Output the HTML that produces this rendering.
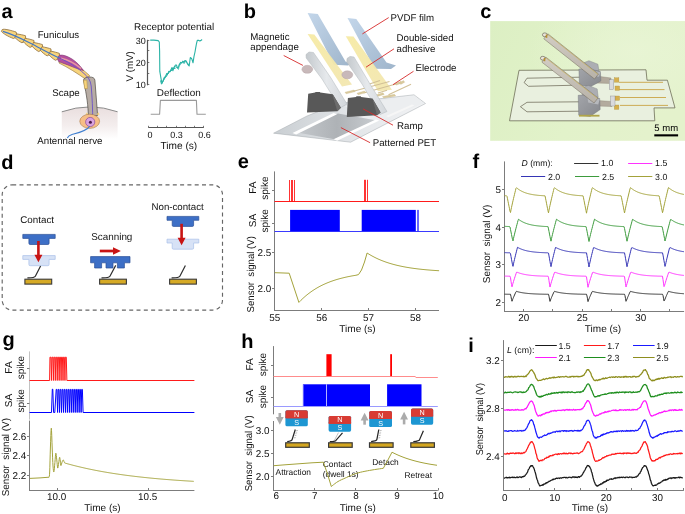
<!DOCTYPE html>
<html><head><meta charset="utf-8"><style>
html,body{margin:0;padding:0;background:#fff;width:685px;height:514px;overflow:hidden}
svg{display:block;will-change:transform}
</style></head><body>
<svg width="685" height="514" viewBox="0 0 685 514" text-rendering="geometricPrecision" font-family='"Liberation Sans", sans-serif'>
<text x="1.5" y="18" font-size="20" text-anchor="start" fill="#000" font-weight="bold">a</text>
<text x="243.8" y="18" font-size="20" text-anchor="start" fill="#000" font-weight="bold">b</text>
<text x="480.3" y="18" font-size="20" text-anchor="start" fill="#000" font-weight="bold">c</text>
<text x="1.2" y="168.5" font-size="20" text-anchor="start" fill="#000" font-weight="bold">d</text>
<text x="237.8" y="168.4" font-size="20" text-anchor="start" fill="#000" font-weight="bold">e</text>
<text x="472.6" y="167.5" font-size="20" text-anchor="start" fill="#000" font-weight="bold">f</text>
<text x="2.5" y="346" font-size="20" text-anchor="start" fill="#000" font-weight="bold">g</text>
<text x="241.2" y="347.5" font-size="20" text-anchor="start" fill="#000" font-weight="bold">h</text>
<text x="468.2" y="351.9" font-size="20" text-anchor="start" fill="#000" font-weight="bold">i</text>
<text x="134" y="30" font-size="9.9" text-anchor="start" fill="#111111">Receptor potential</text>
<defs><linearGradient id="headg" x1="0" y1="0" x2="0" y2="1"><stop offset="0" stop-color="#e9dede"/><stop offset="0.6" stop-color="#f4eeee"/><stop offset="1" stop-color="#ffffff"/></linearGradient></defs>
<path d="M61.8,111.8 Q90,102 117.6,111.8 L117.6,139 L61.8,139 Z" fill="url(#headg)" stroke="none" stroke-width="1"/>
<path d="M61.8,111.8 Q90,102 117.6,111.8" fill="none" stroke="#8a8a8a" stroke-width="1"/>
<path transform="translate(1.8 30.6) rotate(19.41)" d="M0,-1.0 C1,-2.8 9.3,-3.3 13.95,-3.4 L15.5,-1.2 L15.5,1.6 L13.64,3.6 C7.75,3.5 2.32,2.4 0,1.0 Z" fill="#f8d47c" stroke="#8c6c3a" stroke-width="0.7"/>
<path transform="translate(15.69 35.69) rotate(24.4)" d="M0,-2.0 C3.06,-2.8 7.14,-3.9 8.98,-4.0 L10.2,-1.6 L10.2,1.8 L8.67,3.9 C6.12,3.9 2.55,3.0 0,2.0 Z" fill="#f8d47c" stroke="#8c6c3a" stroke-width="0.7"/>
<path transform="translate(24.19 39.93) rotate(27.48)" d="M0,-2.0 C3.06,-2.8 7.14,-3.9 8.98,-4.0 L10.2,-1.6 L10.2,1.8 L8.67,3.9 C6.12,3.9 2.55,3.0 0,2.0 Z" fill="#f8d47c" stroke="#8c6c3a" stroke-width="0.7"/>
<path transform="translate(32.66 44.22) rotate(26.4)" d="M0,-2.0 C3.06,-2.8 7.14,-3.9 8.98,-4.0 L10.2,-1.6 L10.2,1.8 L8.67,3.9 C6.12,3.9 2.55,3.0 0,2.0 Z" fill="#f8d47c" stroke="#8c6c3a" stroke-width="0.7"/>
<path transform="translate(41.17 48.46) rotate(26.78)" d="M0,-2.0 C3.06,-2.8 7.14,-3.9 8.98,-4.0 L10.2,-1.6 L10.2,1.8 L8.67,3.9 C6.12,3.9 2.55,3.0 0,2.0 Z" fill="#f8d47c" stroke="#8c6c3a" stroke-width="0.7"/>
<path transform="translate(49.61 52.81) rotate(27.55)" d="M0,-2.0 C3.06,-2.8 7.14,-3.9 8.98,-4.0 L10.2,-1.6 L10.2,1.8 L8.67,3.9 C6.12,3.9 2.55,3.0 0,2.0 Z" fill="#f8d47c" stroke="#8c6c3a" stroke-width="0.7"/>
<path d="M60,57 C68,59 78,65 89.5,75.5 L87.5,80.5 C77,73 68,67.5 59,63 Z" fill="#f7d47c" stroke="#8c6c3a" stroke-width="0.6"/>
<path d="M59.5,55.2 C63,54.6 67,56 72,59 C76,61.5 80,65.5 83.5,70.5 C79,69.5 74,67.5 68,65 C64,63.5 60.5,62.5 58.6,61.5 C57.2,59.5 57.6,56.2 59.5,55.2 Z" fill="#b4509e" stroke="#7e3470" stroke-width="0.6"/>
<path d="M61,58.2 C67,59.5 74,62.5 81,68.5" fill="none" stroke="#e89aa0" stroke-width="1.4"/>
<path d="M83.5,80.8 C83.3,78.2 86,77.2 89.2,77.0 C92.4,76.9 94.6,77.8 94.9,80.2 C95.8,92 96.8,104 97.6,115.5 L88.4,115.5 C88.0,106 87.0,96 83.5,80.8 Z" fill="#b7aca4" stroke="#4e4944" stroke-width="0.7"/>
<path d="M83.6,80.2 L86.8,80.2 L87.4,88.6 L84.6,88.6 Z" fill="#f7d47c" stroke="#b8923e" stroke-width="0.5"/>
<path d="M2.9,31.4 C10,33.5 20,38 30,43 C40,48 50,54 59.9,58.2" fill="none" stroke="#3f78c8" stroke-width="1.1"/>
<path d="M59.9,58.2 C70,63 78,68 84,73.5 C88,77 90.5,80 91.2,86 C92.2,98 92.8,110 92.6,120" fill="none" stroke="#6a50c8" stroke-width="0.9"/>
<path d="M85.6,114.5 L86.8,112.5 L88.5,114.5 Z" fill="#f7d47c" stroke="none" stroke-width="1"/>
<path d="M96.5,114.5 L98.6,112.3 L99.5,115 Z" fill="#f7d47c" stroke="none" stroke-width="1"/>
<ellipse cx="89.7" cy="121.3" rx="9.9" ry="7.1" fill="#f6be86" stroke="#a77a4a" stroke-width="0.6"/>
<circle cx="90.2" cy="122" r="4.6" fill="#d9a2df" stroke="#8a4a9a" stroke-width="0.7"/>
<circle cx="90.4" cy="122.2" r="1.5" fill="#4a1a4a"/>
<path d="M89.7,126.4 C86,131.5 78,133 72,134.5 C69.5,135.2 68,136.5 67.3,138" fill="none" stroke="#3f7fd0" stroke-width="1.1"/>
<text x="37.7" y="37.8" font-size="9.7" text-anchor="start" fill="#111111">Funiculus</text>
<text x="52.2" y="96.1" font-size="9.7" text-anchor="start" fill="#111111">Scape</text>
<text x="37.3" y="144" font-size="9.7" text-anchor="start" fill="#111111">Antennal nerve</text>
<line x1="147.5" y1="39.8" x2="147.5" y2="85.3" stroke="#555" stroke-width="1.2"/>
<line x1="147.5" y1="40.5" x2="149.3" y2="40.5" stroke="#555" stroke-width="0.8"/>
<line x1="147.5" y1="50.5" x2="149.3" y2="50.5" stroke="#555" stroke-width="0.8"/>
<line x1="147.5" y1="62.5" x2="149.3" y2="62.5" stroke="#555" stroke-width="0.8"/>
<line x1="147.5" y1="73.5" x2="149.3" y2="73.5" stroke="#555" stroke-width="0.8"/>
<line x1="147.5" y1="84.5" x2="149.3" y2="84.5" stroke="#555" stroke-width="0.8"/>
<text x="145.8" y="43.5" font-size="9" text-anchor="end" fill="#111111">30</text>
<text x="145.8" y="65.6" font-size="9" text-anchor="end" fill="#111111">20</text>
<text x="145.8" y="88.3" font-size="9" text-anchor="end" fill="#111111">10</text>
<text x="133.09" y="66.4" font-size="9.7" text-anchor="middle" fill="#111111" transform="rotate(-90 133.09 66.4)">V (mV)</text>
<polyline points="150.2,40.1 153.9,40.1 158.2,40.6 159.3,42 159.6,51 159.8,71.4 160.9,77.8 161.9,83.2 163,81 164.1,77.8 165.5,76.5 166.8,73.5 168,73.2 168.9,71.4 170,71.5 171,69.8 172,67.5 173,69.5 174.2,67.1 175.5,65 176.4,65 177.5,68 178.5,67.1 179.5,64 180.7,62.3 181.8,63 182.8,61.2 184,62 185,60.5 186,60.7 187,62.5 188.2,64.4 189.2,66 190.3,57.5 191.2,58.2 191.9,59.1 193,62.8 194,56.4 195,52 195.7,47.8 196.5,43.5 197.3,40.4 198.5,40.3 199.4,40.9 200.8,40.6 202.1,39.5" fill="none" stroke="#2ab3a6" stroke-width="1.1" stroke-linejoin="round"/>
<polyline points="160.5,80.5 161.5,84.2 162.5,82 164,79.5 165.5,77.2 167,75.5 168.5,72.5 170.2,71.2 172,70.2 174,68.5 175.5,68.4" fill="none" stroke="#2ab3a6" stroke-width="1.0" stroke-linejoin="round"/>
<polyline points="162.5,82.54 163.3,80.22 164.1,79.19 164.9,76.95 165.7,77.13 166.5,74.84 167.3,73.23 168.1,74.02 168.9,71.2 169.7,72.3 170.5,70.53 171.3,69.05 172.1,68.5 172.9,71.15 173.7,68.12 174.5,66.9 175.3,66.65 176.1,67.16 176.9,67.56 177.7,68.55 178.5,69.34 179.3,64.44 180.1,65.08 180.9,62.88 181.7,63.01 182.5,61.75 183.3,62.04 184.1,63.67 184.9,60.82 185.7,61.85 186.5,62.96 187.3,63.64 188.1,65.37 188.9,65.38" fill="none" stroke="#2ab3a6" stroke-width="0.8" stroke-linejoin="round"/>
<text x="156.8" y="95.8" font-size="9.9" text-anchor="start" fill="#111111">Deflection</text>
<polyline points="150.7,114.3 159.6,114.3 160.4,100.4 196.4,100.4 197,114.3 205.8,114.3" fill="none" stroke="#9a9a9a" stroke-width="1.1" stroke-linejoin="round"/>
<line x1="148.6" y1="127.5" x2="203.6" y2="127.5" stroke="#555" stroke-width="1"/>
<line x1="148.5" y1="127.9" x2="148.5" y2="125.8" stroke="#555" stroke-width="0.8"/>
<line x1="157.5" y1="127.9" x2="157.5" y2="125.8" stroke="#555" stroke-width="0.8"/>
<line x1="166.5" y1="127.9" x2="166.5" y2="125.8" stroke="#555" stroke-width="0.8"/>
<line x1="176.5" y1="127.9" x2="176.5" y2="125.8" stroke="#555" stroke-width="0.8"/>
<line x1="185.5" y1="127.9" x2="185.5" y2="125.8" stroke="#555" stroke-width="0.8"/>
<line x1="194.5" y1="127.9" x2="194.5" y2="125.8" stroke="#555" stroke-width="0.8"/>
<line x1="203.5" y1="127.9" x2="203.5" y2="125.8" stroke="#555" stroke-width="0.8"/>
<text x="150" y="137.6" font-size="9" text-anchor="middle" fill="#111111">0</text>
<text x="176.4" y="137.6" font-size="9" text-anchor="middle" fill="#111111">0.3</text>
<text x="204.6" y="137.6" font-size="9" text-anchor="middle" fill="#111111">0.6</text>
<text x="178.9" y="149" font-size="10.1" text-anchor="middle" fill="#111111">Time (s)</text>
<defs>
<linearGradient id="pvdf" x1="0" y1="0" x2="1" y2="1"><stop offset="0" stop-color="#c3d6ea"/><stop offset="1" stop-color="#9fb5cb"/></linearGradient>
<linearGradient id="adh" x1="0" y1="0" x2="1" y2="1"><stop offset="0" stop-color="#f6eaa4"/><stop offset="1" stop-color="#f2e6b0"/></linearGradient>
<linearGradient id="pet" x1="0" y1="0" x2="1" y2="0"><stop offset="0" stop-color="#c9ced2"/><stop offset="0.5" stop-color="#e2e5e8"/><stop offset="1" stop-color="#f2f3f5"/></linearGradient>
<linearGradient id="strip" x1="0" y1="0" x2="1" y2="0"><stop offset="0" stop-color="#c4c9cd"/><stop offset="0.5" stop-color="#e6e9ec"/><stop offset="1" stop-color="#d3d7db"/></linearGradient>
</defs>
<defs><linearGradient id="petmid" x1="0" y1="0" x2="1" y2="0"><stop offset="0" stop-color="#c4c8cc"/><stop offset="0.5" stop-color="#aeb2b6"/><stop offset="1" stop-color="#c9cdd1"/></linearGradient></defs>
<polygon points="273.6,133.2 307,116 338,103.5 414,94.8 425.5,103.5 350.6,142.2" fill="url(#pet)" stroke="#a3a8ad" stroke-width="0.5"/>
<polygon points="345,106 414,95.8 424,103.3 372,124" fill="#eceef0" stroke="none" stroke-width="1"/>
<polygon points="297,132.5 318,121.5 338,113.5 377,120.5 356,131 337,139.8" fill="url(#petmid)" stroke="none" stroke-width="1"/>
<polygon points="292.5,133 333.6,113 337,114.2 296.2,134.4" fill="#ffffff" stroke="none" stroke-width="1"/>
<polygon points="333.5,139.3 375.8,119.4 379.2,120.6 337.2,140.7" fill="#ffffff" stroke="none" stroke-width="1"/>
<polygon points="386,116 412,104.5 414.5,105.5 388.5,117.2" fill="#f6f6f6" stroke="none" stroke-width="1"/>
<polygon points="307.6,12.9 317.8,14.1 345.5,61.5 350,63.8 348,65.6 333.8,64.8" fill="url(#pvdf)" stroke="none" stroke-width="1"/>
<polygon points="347.5,18.1 356.3,19 386.5,62.5 396,65.5 391,69 374.5,68.8" fill="url(#pvdf)" stroke="none" stroke-width="1"/>
<polygon points="307.6,33.9 314.3,34.4 352,84.5 342,86.5" fill="url(#adh)" stroke="none" stroke-width="1" opacity="0.95"/>
<polygon points="345.8,36.2 353.5,36.5 392,89.8 378,91.2" fill="url(#adh)" stroke="none" stroke-width="1" opacity="0.95"/>
<ellipse cx="307.3" cy="69.3" rx="5.4" ry="4" fill="#c8b9ba" stroke="#b0a0a2" stroke-width="0.4"/>
<ellipse cx="347.3" cy="74.8" rx="5.5" ry="4" fill="#c8b9ba" stroke="#b0a0a2" stroke-width="0.4"/>
<line x1="352.5" y1="91.5" x2="389.5" y2="81.5" stroke="#d2c197" stroke-width="1.1"/>
<line x1="363.5" y1="93" x2="399.5" y2="83" stroke="#d2c197" stroke-width="1.1"/>
<line x1="369.5" y1="84" x2="380" y2="80.6" stroke="#d2c197" stroke-width="1.1"/>
<line x1="388.5" y1="94.8" x2="411" y2="84.2" stroke="#d2c197" stroke-width="1.1"/>
<line x1="378" y1="93" x2="387" y2="90.2" stroke="#d2c197" stroke-width="1.1"/>
<polygon points="345,92.2 354,90 355.2,91.6 346.2,93.8" fill="#dacb9f" stroke="#c4b07c" stroke-width="0.3"/>
<polygon points="357,93.2 364.5,91 365.7,92.6 358.2,94.8" fill="#dacb9f" stroke="#c4b07c" stroke-width="0.3"/>
<polygon points="376,95 383,92.8 384.2,94.4 377.2,96.6" fill="#dacb9f" stroke="#c4b07c" stroke-width="0.3"/>
<polygon points="382.5,96.5 394.5,94.3 395.7,95.9 383.7,98.1" fill="#dacb9f" stroke="#c4b07c" stroke-width="0.3"/>
<polygon points="395,83.5 401,81.3 402.2,82.9 396.2,85.1" fill="#dacb9f" stroke="#c4b07c" stroke-width="0.3"/>
<polygon points="399.5,82.8 403.5,80.6 404.7,82.2 400.7,84.4" fill="#dacb9f" stroke="#c4b07c" stroke-width="0.3"/>
<polygon points="306,54.5 309,52 313.5,52.5 331,78 347,104 340,108 322,79 306.2,58" fill="url(#strip)" stroke="#b3b8bc" stroke-width="0.5"/>
<polygon points="347,58.5 350,56.4 354,57 370,84 387,111.5 380,114.5 362,84 346.8,62" fill="url(#strip)" stroke="#b3b8bc" stroke-width="0.5"/>
<polygon points="308.2,93.7 315.2,92.6 315.5,92 319.9,92 320.2,92.6 332.7,94.2 340.9,107.7 337.4,111.2 307,112.4" fill="#585858" stroke="none" stroke-width="1"/>
<polygon points="332.7,94.2 340.9,107.7 337.4,111.2 333,97" fill="#6c6c6c" stroke="none" stroke-width="1"/>
<polygon points="347.9,97.9 356.1,96.9 356.4,96.3 360.8,96.3 361,96.9 372.5,98.4 380.6,112.4 377.1,115.2 346.8,117" fill="#585858" stroke="none" stroke-width="1"/>
<polygon points="372.5,98.4 380.6,112.4 377.1,115.2 373,101" fill="#6c6c6c" stroke="none" stroke-width="1"/>
<line x1="283.7" y1="55.5" x2="302.9" y2="65.4" stroke="#d62a2a" stroke-width="0.9"/>
<line x1="388.7" y1="17.6" x2="362.4" y2="33.9" stroke="#d62a2a" stroke-width="0.9"/>
<line x1="394" y1="48.8" x2="366" y2="67.2" stroke="#d62a2a" stroke-width="0.9"/>
<line x1="413.5" y1="71.3" x2="393" y2="84.7" stroke="#d62a2a" stroke-width="0.9"/>
<line x1="363.1" y1="108.9" x2="393" y2="125.2" stroke="#d62a2a" stroke-width="0.9"/>
<line x1="340.9" y1="127.6" x2="370.1" y2="142.7" stroke="#d62a2a" stroke-width="0.9"/>
<text x="250.3" y="39.5" font-size="9.7" text-anchor="start" fill="#111111">Magnetic</text>
<text x="250.3" y="50" font-size="9.7" text-anchor="start" fill="#111111">appendage</text>
<text x="390.5" y="20.6" font-size="9.7" text-anchor="start" fill="#111111">PVDF film</text>
<text x="396.5" y="40.8" font-size="9.7" text-anchor="start" fill="#111111">Double-sided</text>
<text x="396.5" y="52" font-size="9.7" text-anchor="start" fill="#111111">adhesive</text>
<text x="415.5" y="70.8" font-size="9.7" text-anchor="start" fill="#111111">Electrode</text>
<text x="397" y="128.7" font-size="9.7" text-anchor="start" fill="#111111">Ramp</text>
<text x="372.7" y="145.8" font-size="9.7" text-anchor="start" fill="#111111">Patterned PET</text>
<defs>
<linearGradient id="photobg" x1="0" y1="0" x2="1" y2="0.3"><stop offset="0" stop-color="#dcefc3"/><stop offset="0.6" stop-color="#e2f2ca"/><stop offset="1" stop-color="#e4f2cc"/></linearGradient>
<radialGradient id="photohl" cx="0.75" cy="0.25" r="0.55"><stop offset="0" stop-color="#e9f5d6" stop-opacity="0.8"/><stop offset="1" stop-color="#e9f5d6" stop-opacity="0"/></radialGradient>
<linearGradient id="cant" x1="0" y1="0" x2="0" y2="1"><stop offset="0" stop-color="#d2cdc4"/><stop offset="1" stop-color="#b8b2a8"/></linearGradient>
<linearGradient id="rampg" x1="0" y1="0" x2="1" y2="1"><stop offset="0" stop-color="#a3a5aa"/><stop offset="1" stop-color="#86888d"/></linearGradient>
</defs>
<rect x="490.2" y="21.1" width="194.8" height="119.7" rx="0" fill="url(#photobg)" stroke="none" stroke-width="1"/>
<rect x="490.2" y="21.1" width="194.8" height="119.7" rx="0" fill="url(#photohl)" stroke="none" stroke-width="1"/>
<polygon points="519,70.3 646,69.8 647,80.2 667.4,80.2 675,107.9 654,107.9 654.8,120.8 509.5,120.8" fill="#e9f0df" stroke="#6f6f58" stroke-width="0.8"/>
<polyline points="580,77.2 527,78.2 524.1,82.6 528.5,86.3 580,85.1" fill="none" stroke="#6e6a58" stroke-width="0.75" stroke-linejoin="round"/>
<polyline points="580,101.8 527,102.3 520.4,106.7 527,111.8 580,111.2" fill="none" stroke="#6e6a58" stroke-width="0.75" stroke-linejoin="round"/>
<line x1="619" y1="82.3" x2="663" y2="82.3" stroke="#c9a445" stroke-width="0.9"/>
<line x1="619" y1="89.6" x2="664.5" y2="89.6" stroke="#c9a445" stroke-width="0.9"/>
<line x1="620" y1="97.5" x2="666" y2="97.5" stroke="#c9a445" stroke-width="0.9"/>
<line x1="620" y1="105.4" x2="668" y2="105.4" stroke="#c9a445" stroke-width="0.9"/>
<rect x="614.3" y="77.8" width="4.6" height="4.4" rx="0" fill="#d6b04e" stroke="#a88a3a" stroke-width="0.3"/>
<rect x="615" y="86" width="4.6" height="4.4" rx="0" fill="#d6b04e" stroke="#a88a3a" stroke-width="0.3"/>
<rect x="615" y="96" width="4.6" height="4.4" rx="0" fill="#d6b04e" stroke="#a88a3a" stroke-width="0.3"/>
<rect x="614.3" y="105" width="4.6" height="4.4" rx="0" fill="#d6b04e" stroke="#a88a3a" stroke-width="0.3"/>
<polygon points="596,76 611,78 611,83.5 596,83" fill="#b3ab9e" stroke="#8a8274" stroke-width="0.4"/>
<polygon points="597,100.5 612,101.5 612,106.5 597,106" fill="#b3ab9e" stroke="#8a8274" stroke-width="0.4"/>
<rect x="609.2" y="79.7" width="4.5" height="10" rx="0" fill="#d9dadd" stroke="#7e7e80" stroke-width="0.35"/>
<rect x="610.5" y="96" width="4.5" height="10" rx="0" fill="#d9dadd" stroke="#7e7e80" stroke-width="0.35"/>
<polygon points="583.9,62.7 588.9,60.7 597.9,64.2 598.9,70.54 587.9,71.58 582.9,68.47" fill="#acaeb3" stroke="#7c7e83" stroke-width="0.4"/>
<polygon points="578.9,68.99 587.9,68.47 600.4,71.58 600.9,80.9 590.9,86.6 579.4,85.56" fill="url(#rampg)" stroke="#6c6e75" stroke-width="0.4"/>
<polygon points="587.9,69.25 600.4,72.36 598.9,76.76 588.9,74.95" fill="#b6b8bc" stroke="none" stroke-width="1"/>
<polygon points="583.2,87.4 588.2,85.4 597.2,88.9 598.2,97.18 587.2,98.42 582.2,94.7" fill="#acaeb3" stroke="#7c7e83" stroke-width="0.4"/>
<polygon points="578.2,95.32 587.2,94.7 599.7,98.42 600.2,109.58 590.2,116.4 578.7,115.16" fill="url(#rampg)" stroke="#6c6e75" stroke-width="0.4"/>
<polygon points="587.2,95.63 599.7,99.35 598.2,104.62 588.2,102.45" fill="#b6b8bc" stroke="none" stroke-width="1"/>
<rect x="579" y="114.8" width="20.5" height="1.8" rx="0" fill="#b0a54a" stroke="none" stroke-width="1"/>
<polygon points="543.81,38.81 594.51,79.01 598.49,73.99 547.79,33.79" fill="url(#cant)" stroke="#6e6658" stroke-width="0.5"/>
<line x1="547.39" y1="34.29" x2="598.09" y2="74.49" stroke="#c8b050" stroke-width="0.6"/>
<polygon points="541.83,62.12 594.03,103.02 597.97,97.98 545.77,57.08" fill="url(#cant)" stroke="#6e6658" stroke-width="0.5"/>
<line x1="545.38" y1="57.58" x2="597.58" y2="98.48" stroke="#c8b050" stroke-width="0.6"/>
<ellipse cx="544.8" cy="34.8" rx="2.4" ry="1.9" fill="#e8e4da" stroke="#5c5448" stroke-width="0.6"/>
<rect x="545.7" y="34.6" width="1.6" height="3.2" rx="0" fill="#b8902a" stroke="none" stroke-width="1"/>
<ellipse cx="542.8" cy="58.2" rx="2.4" ry="1.9" fill="#e8e4da" stroke="#5c5448" stroke-width="0.6"/>
<rect x="543.7" y="58" width="1.6" height="3.2" rx="0" fill="#b8902a" stroke="none" stroke-width="1"/>
<text x="654.3" y="131" font-size="9.5" text-anchor="start" fill="#000">5 mm</text>
<rect x="654.3" y="134.3" width="23.8" height="2.1" rx="0" fill="#000" stroke="none" stroke-width="1"/>
<rect x="2.2" y="184.8" width="220.3" height="125.3" rx="10" fill="none" stroke="#666666" stroke-width="1.15" stroke-dasharray="4 3.3"/>
<text x="20.3" y="222.9" font-size="9.8" text-anchor="start" fill="#111111">Contact</text>
<text x="91.2" y="240.1" font-size="9.9" text-anchor="start" fill="#111111">Scanning</text>
<text x="151.5" y="209.6" font-size="9.7" text-anchor="start" fill="#111111">Non-contact</text>
<path d="M22.8,234.4 L55.2,234.4 L55.2,238.4 L49.1,238.4 L49.1,243.3 Q49.1,244.5 47.9,244.5 L30.1,244.5 Q28.9,244.5 28.9,243.3 L28.9,238.4 L22.8,238.4 Z" fill="#3d6fc6" stroke="#2a4f96" stroke-width="0.7"/>
<path d="M22.8,255.6 L55.2,255.6 L55.2,259.4 L49.1,259.4 L49.1,264.5 Q49.1,265.7 47.9,265.7 L30.1,265.7 Q28.9,265.7 28.9,264.5 L28.9,259.4 L22.8,259.4 Z" fill="#d7e2f6" stroke="#a9c0ea" stroke-width="0.7"/>
<line x1="38.4" y1="241" x2="38.4" y2="255.7" stroke="#c81414" stroke-width="2.6"/>
<polygon points="34.4,254.7 42.4,254.7 38.4,262.2" fill="#c81414" stroke="none" stroke-width="1"/>
<path d="M27.4,277.8 Q34.44,277.9 35.34,276.2 L40.6,266" fill="none" stroke="#2e2e2e" stroke-width="1.2"/>
<rect x="24.9" y="279.2" width="26.8" height="4.9" rx="0" fill="#d6aa26" stroke="#3a3a3a" stroke-width="1.1"/>
<path d="M90.6,256.6 L130,256.6 L130,262.8 L124.4,262.8 L124.4,268 L117.4,268 L117.4,262.8 L113,262.8 L113,268 L106,268 L106,262.8 L101.6,262.8 L101.6,268 L94.6,268 L94.6,262.8 L90.6,262.8 Z" fill="#3d6fc6" stroke="#2a4f96" stroke-width="0.7"/>
<line x1="99.8" y1="251" x2="113.6" y2="251" stroke="#c81414" stroke-width="2.7"/>
<polygon points="113,247.2 113,254.8 120.9,251" fill="#c81414" stroke="none" stroke-width="1"/>
<path d="M101.5,277.8 Q109.06,277.9 109.96,276.2 L115.7,265.4" fill="none" stroke="#2e2e2e" stroke-width="1.2"/>
<rect x="99.6" y="279.2" width="26.8" height="4.9" rx="0" fill="#d6aa26" stroke="#3a3a3a" stroke-width="1.1"/>
<path d="M167,216.4 L198.8,216.4 L198.8,220.3 L193.6,220.3 L193.6,225.2 Q193.6,226.4 192.4,226.4 L173.4,226.4 Q172.2,226.4 172.2,225.2 L172.2,220.3 L167,220.3 Z" fill="#3d6fc6" stroke="#2a4f96" stroke-width="0.7"/>
<path d="M167,239.2 L198.8,239.2 L198.8,243 L193.6,243 L193.6,248 Q193.6,249.2 192.4,249.2 L173.4,249.2 Q172.2,249.2 172.2,248 L172.2,243 L167,243 Z" fill="#d7e2f6" stroke="#a9c0ea" stroke-width="0.7"/>
<line x1="181.6" y1="223.8" x2="181.6" y2="238.7" stroke="#c81414" stroke-width="2.6"/>
<polygon points="177.6,237.7 185.6,237.7 181.6,245.2" fill="#c81414" stroke="none" stroke-width="1"/>
<path d="M171.6,277.8 Q178.96,277.9 179.86,276.2 L185.4,265.4" fill="none" stroke="#2e2e2e" stroke-width="1.2"/>
<rect x="169.6" y="279.2" width="26.8" height="4.9" rx="0" fill="#d6aa26" stroke="#3a3a3a" stroke-width="1.1"/>
<line x1="274.5" y1="171.4" x2="274.5" y2="311" stroke="#7c7c7c" stroke-width="1"/>
<line x1="274" y1="310.5" x2="439" y2="310.5" stroke="#7c7c7c" stroke-width="1"/>
<line x1="272" y1="190.5" x2="274.5" y2="190.5" stroke="#7c7c7c" stroke-width="1"/>
<line x1="274.5" y1="201.5" x2="439" y2="201.5" stroke="#ff1a1a" stroke-width="1"/>
<line x1="289.5" y1="201.3" x2="289.5" y2="180" stroke="#ff0000" stroke-width="0.8"/>
<line x1="291.5" y1="201.3" x2="291.5" y2="180" stroke="#ff0000" stroke-width="0.8"/>
<line x1="292.5" y1="201.3" x2="292.5" y2="180" stroke="#ff0000" stroke-width="0.8"/>
<line x1="294.5" y1="201.3" x2="294.5" y2="180" stroke="#ff0000" stroke-width="0.8"/>
<line x1="364.5" y1="201.3" x2="364.5" y2="179.8" stroke="#ff0000" stroke-width="0.8"/>
<line x1="365.5" y1="201.3" x2="365.5" y2="179.8" stroke="#ff0000" stroke-width="0.8"/>
<line x1="367.5" y1="201.3" x2="367.5" y2="179.8" stroke="#ff0000" stroke-width="0.8"/>
<line x1="272" y1="223.5" x2="274.5" y2="223.5" stroke="#7c7c7c" stroke-width="1"/>
<line x1="274.5" y1="231.5" x2="439" y2="231.5" stroke="#3a3aff" stroke-width="1"/>
<rect x="290.1" y="209.9" width="49.7" height="21.3" rx="0" fill="#0000ff" stroke="none" stroke-width="1"/>
<rect x="361.7" y="209.9" width="54.1" height="21.3" rx="0" fill="#0000ff" stroke="none" stroke-width="1"/>
<line x1="417.5" y1="209.9" x2="417.5" y2="231.2" stroke="#0000ff" stroke-width="0.6"/>
<line x1="418.5" y1="209.9" x2="418.5" y2="231.2" stroke="#0000ff" stroke-width="0.6"/>
<line x1="272" y1="252.5" x2="274.5" y2="252.5" stroke="#7c7c7c" stroke-width="1"/>
<text x="271.3" y="256" font-size="9.9" text-anchor="end" fill="#111111">2.5</text>
<line x1="272" y1="288.5" x2="274.5" y2="288.5" stroke="#7c7c7c" stroke-width="1"/>
<text x="271.3" y="292.3" font-size="9.9" text-anchor="end" fill="#111111">2.0</text>
<line x1="274.5" y1="310.5" x2="274.5" y2="308" stroke="#7c7c7c" stroke-width="1"/>
<text x="274.8" y="320.9" font-size="9.9" text-anchor="middle" fill="#111111">55</text>
<line x1="321.5" y1="310.5" x2="321.5" y2="308" stroke="#7c7c7c" stroke-width="1"/>
<text x="321.7" y="320.9" font-size="9.9" text-anchor="middle" fill="#111111">56</text>
<line x1="368.5" y1="310.5" x2="368.5" y2="308" stroke="#7c7c7c" stroke-width="1"/>
<text x="368.6" y="320.9" font-size="9.9" text-anchor="middle" fill="#111111">57</text>
<line x1="415.5" y1="310.5" x2="415.5" y2="308" stroke="#7c7c7c" stroke-width="1"/>
<text x="415.5" y="320.9" font-size="9.9" text-anchor="middle" fill="#111111">58</text>
<text x="357.5" y="332" font-size="10.0" text-anchor="middle" fill="#111111">Time (s)</text>
<text x="256.4" y="187.6" font-size="10.0" text-anchor="middle" fill="#111111" transform="rotate(-90 256.4 187.6)">FA</text>
<text x="268" y="188" font-size="10.0" text-anchor="middle" fill="#111111" transform="rotate(-90 268 188)">spike</text>
<text x="256.4" y="220.5" font-size="10.0" text-anchor="middle" fill="#111111" transform="rotate(-90 256.4 220.5)">SA</text>
<text x="268" y="220.8" font-size="10.0" text-anchor="middle" fill="#111111" transform="rotate(-90 268 220.8)">spike</text>
<text x="254.1" y="274.25" font-size="10" text-anchor="middle" fill="#111111" transform="rotate(-90 254.1 274.25)" textLength="76.3" lengthAdjust="spacingAndGlyphs">Sensor&#160; signal (V)</text>
<polyline points="274.8,272.7 289.2,273.2 298.9,302.4 299.9,301.35 300.9,300.34 301.9,299.36 302.9,298.42 303.9,297.5 304.9,296.62 305.9,295.76 306.9,294.93 307.9,294.13 308.9,293.36 309.9,292.61 310.9,291.88 311.9,291.18 312.9,290.5 313.9,289.85 314.9,289.21 315.9,288.6 316.9,288.01 317.9,287.43 318.9,286.88 319.9,286.34 320.9,285.82 321.9,285.32 322.9,284.83 323.9,284.36 324.9,283.91 325.9,283.47 326.9,283.04 327.9,282.63 328.9,282.24 329.9,281.85 330.9,281.48 331.9,281.12 332.9,280.77 333.9,280.43 334.9,280.11 335.9,279.79 336.9,279.49 337.9,279.19 338.9,278.91 339.9,278.63 340.9,278.37 341.9,278.11 342.9,277.86 343.9,277.62 344.9,277.38 345.9,277.16 346.9,276.94 347.9,276.73 348.9,276.53 349.9,276.33 350.9,276.14 351.9,275.95 352.9,275.77 353.9,275.6 354.9,275.43 355.9,275.27 358.5,274.6 361.5,270 364.5,262 367.1,253 368.1,253.64 369.1,254.26 370.1,254.86 371.1,255.43 372.1,255.99 373.1,256.53 374.1,257.06 375.1,257.56 376.1,258.05 377.1,258.53 378.1,258.99 379.1,259.43 380.1,259.86 381.1,260.27 382.1,260.67 383.1,261.06 384.1,261.44 385.1,261.8 386.1,262.15 387.1,262.49 388.1,262.82 389.1,263.13 390.1,263.44 391.1,263.74 392.1,264.03 393.1,264.3 394.1,264.57 395.1,264.83 396.1,265.08 397.1,265.33 398.1,265.56 399.1,265.79 400.1,266.01 401.1,266.22 402.1,266.43 403.1,266.63 404.1,266.82 405.1,267.01 406.1,267.19 407.1,267.36 408.1,267.53 409.1,267.69 410.1,267.85 411.1,268 412.1,268.15 413.1,268.29 414.1,268.43 415.1,268.56 416.1,268.69 417.1,268.82 418.1,268.94 419.1,269.05 420.1,269.17 421.1,269.28 422.1,269.38 423.1,269.48 424.1,269.58 425.1,269.68 426.1,269.77 427.1,269.86 428.1,269.95 429.1,270.03 430.1,270.11 431.1,270.19 432.1,270.27 433.1,270.34 434.1,270.41 435.1,270.48 436.1,270.54 437.1,270.61 438.1,270.67 439.1,270.73" fill="none" stroke="#a3a23a" stroke-width="1.0" stroke-linejoin="round"/>
<line x1="504.5" y1="161.4" x2="504.5" y2="312" stroke="#7c7c7c" stroke-width="1"/>
<line x1="504" y1="311.5" x2="684.1" y2="311.5" stroke="#7c7c7c" stroke-width="1"/>
<line x1="502" y1="189.5" x2="504.5" y2="189.5" stroke="#7c7c7c" stroke-width="1"/>
<text x="501" y="192.9" font-size="9.9" text-anchor="end" fill="#111111">5</text>
<line x1="502" y1="227.5" x2="504.5" y2="227.5" stroke="#7c7c7c" stroke-width="1"/>
<text x="501" y="230.6" font-size="9.9" text-anchor="end" fill="#111111">4</text>
<line x1="502" y1="264.5" x2="504.5" y2="264.5" stroke="#7c7c7c" stroke-width="1"/>
<text x="501" y="268.2" font-size="9.9" text-anchor="end" fill="#111111">3</text>
<line x1="502" y1="302.5" x2="504.5" y2="302.5" stroke="#7c7c7c" stroke-width="1"/>
<text x="501" y="305.9" font-size="9.9" text-anchor="end" fill="#111111">2</text>
<line x1="523.5" y1="311.5" x2="523.5" y2="309" stroke="#7c7c7c" stroke-width="1"/>
<line x1="552.5" y1="311.5" x2="552.5" y2="309" stroke="#7c7c7c" stroke-width="1"/>
<line x1="582.5" y1="311.5" x2="582.5" y2="309" stroke="#7c7c7c" stroke-width="1"/>
<line x1="611.5" y1="311.5" x2="611.5" y2="309" stroke="#7c7c7c" stroke-width="1"/>
<line x1="640.5" y1="311.5" x2="640.5" y2="309" stroke="#7c7c7c" stroke-width="1"/>
<line x1="669.5" y1="311.5" x2="669.5" y2="309" stroke="#7c7c7c" stroke-width="1"/>
<text x="523.7" y="321.2" font-size="9.9" text-anchor="middle" fill="#111111">20</text>
<text x="582.2" y="321.2" font-size="9.9" text-anchor="middle" fill="#111111">25</text>
<text x="640.7" y="321.2" font-size="9.9" text-anchor="middle" fill="#111111">30</text>
<text x="603" y="332" font-size="10.0" text-anchor="middle" fill="#111111">Time (s)</text>
<text x="489.6" y="243.9" font-size="10" text-anchor="middle" fill="#111111" transform="rotate(-90 489.6 243.9)" textLength="78.6" lengthAdjust="spacingAndGlyphs">Sensor&#160; signal (V)</text>
<text x="521.6" y="166.1" font-size="8.6" text-anchor="start" fill="#111111"><tspan font-style="italic">D</tspan> (mm):</text>
<line x1="574.1" y1="163.5" x2="598.3" y2="163.5" stroke="#333333" stroke-width="1"/>
<text x="601.1" y="166.2" font-size="8.8" text-anchor="start" fill="#111111">1.0</text>
<line x1="628.1" y1="163.5" x2="652.3" y2="163.5" stroke="#ff33ff" stroke-width="1"/>
<text x="655.1" y="166.2" font-size="8.8" text-anchor="start" fill="#111111">1.5</text>
<line x1="521" y1="176.5" x2="545.2" y2="176.5" stroke="#3535b5" stroke-width="1"/>
<text x="548" y="179.7" font-size="8.8" text-anchor="start" fill="#111111">2.0</text>
<line x1="575" y1="176.5" x2="599.2" y2="176.5" stroke="#3d9b3d" stroke-width="1"/>
<text x="602" y="179.7" font-size="8.8" text-anchor="start" fill="#111111">2.5</text>
<line x1="628.1" y1="176.5" x2="652.3" y2="176.5" stroke="#a3a23a" stroke-width="1"/>
<text x="655.1" y="179.7" font-size="8.8" text-anchor="start" fill="#111111">3.0</text>
<polyline points="504.5,195.67 505,195.7 505.5,195.73 506,195.76 506.5,195.78 507,196.3 507.5,198.79 508,201.27 508.5,203.76 509,206.24 509.5,208.73 510,211.21 510.5,212.53 511,209.86 511.5,207.44 512,205.14 512.5,202.9 513,200.72 513.5,198.58 514,196.47 514.5,194.39 515,192.34 515.5,190.31 516,188.3 516.5,187.76 517,188.18 517.5,188.57 518,188.95 518.5,189.31 519,189.65 519.5,189.97 520,190.28 520.5,190.58 521,190.85 521.5,191.12 522,191.37 522.5,191.61 523,191.84 523.5,192.06 524,192.27 524.5,192.46 525,192.65 525.5,192.83 526,193 526.5,193.16 527,193.31 527.5,193.46 528,193.6 528.5,193.73 529,193.85 529.5,193.97 530,194.09 530.5,194.19 531,194.3 531.5,194.39 532,194.49 532.5,194.58 533,194.66 533.5,194.74 534,194.82 534.5,194.89 535,194.96 535.5,195.02 536,195.08 536.5,195.14 537,195.2 537.5,195.25 538,195.31 538.5,195.35 539,195.4 539.5,195.44 540,195.49 540.5,195.53 541,195.56 541.5,195.6 542,195.63 542.5,195.67 543,195.7 543.5,195.73 544,195.75 544.5,195.78 545,195.81 545.5,198.11 546,200.67 546.5,203.23 547,205.78 547.5,208.34 548,210.9 548.5,212.84 549,210.12 549.5,207.68 550,205.36 550.5,203.12 551,200.93 551.5,198.79 552,196.68 552.5,194.6 553,192.54 553.5,190.51 554,188.5 554.5,187.72 555,188.14 555.5,188.53 556,188.91 556.5,189.27 557,189.62 557.5,189.94 558,190.25 558.5,190.55 559,190.83 559.5,191.09 560,191.35 560.5,191.59 561,191.82 561.5,192.04 562,192.25 562.5,192.44 563,192.63 563.5,192.81 564,192.98 564.5,193.14 565,193.3 565.5,193.44 566,193.58 566.5,193.71 567,193.84 567.5,193.96 568,194.08 568.5,194.18 569,194.29 569.5,194.38 570,194.48 570.5,194.57 571,194.65 571.5,194.73 572,194.81 572.5,194.88 573,194.95 573.5,195.02 574,195.08 574.5,195.14 575,195.2 575.5,195.25 576,195.3 576.5,195.35 577,195.4 577.5,195.44 578,195.48 578.5,195.52 579,195.56 579.5,195.6 580,195.63 580.5,195.66 581,195.69 581.5,195.72 582,195.75 582.5,195.78 583,195.8 583.5,197.85 584,200.41 584.5,202.97 585,205.53 585.5,208.08 586,210.64 586.5,213.2 587,210.37 587.5,207.92 588,205.59 588.5,203.34 589,201.15 589.5,199 590,196.89 590.5,194.8 591,192.75 591.5,190.71 592,188.7 592.5,187.67 593,188.09 593.5,188.5 594,188.88 594.5,189.24 595,189.58 595.5,189.91 596,190.22 596.5,190.52 597,190.8 597.5,191.07 598,191.32 598.5,191.57 599,191.8 599.5,192.02 600,192.23 600.5,192.42 601,192.61 601.5,192.79 602,192.96 602.5,193.13 603,193.28 603.5,193.43 604,193.57 604.5,193.7 605,193.83 605.5,193.95 606,194.06 606.5,194.17 607,194.28 607.5,194.38 608,194.47 608.5,194.56 609,194.64 609.5,194.72 610,194.8 610.5,194.87 611,194.94 611.5,195.01 612,195.07 612.5,195.13 613,195.19 613.5,195.24 614,195.3 614.5,195.34 615,195.39 615.5,195.44 616,195.48 616.5,195.52 617,195.56 617.5,195.59 618,195.63 618.5,195.66 619,195.69 619.5,195.72 620,195.75 620.5,195.78 621,195.8 621.5,197.6 622,200.16 622.5,202.71 623,205.27 623.5,207.83 624,210.39 624.5,212.94 625,210.63 625.5,208.16 626,205.82 626.5,203.56 627,201.37 627.5,199.21 628,197.1 628.5,195.01 629,192.95 629.5,190.92 630,188.9 630.5,187.63 631,188.05 631.5,188.46 632,188.84 632.5,189.2 633,189.55 633.5,189.88 634,190.19 634.5,190.49 635,190.77 635.5,191.04 636,191.3 636.5,191.54 637,191.77 637.5,192 638,192.21 638.5,192.4 639,192.59 639.5,192.78 640,192.95 640.5,193.11 641,193.27 641.5,193.41 642,193.56 642.5,193.69 643,193.82 643.5,193.94 644,194.05 644.5,194.16 645,194.27 645.5,194.37 646,194.46 646.5,194.55 647,194.64 647.5,194.72 648,194.79 648.5,194.87 649,194.94 649.5,195 650,195.07 650.5,195.13 651,195.18 651.5,195.24 652,195.29 652.5,195.34 653,195.39 653.5,195.43 654,195.47 654.5,195.51 655,195.55 655.5,195.59 656,195.62 656.5,195.66 657,195.69 657.5,195.72 658,195.75 658.5,195.77 659,195.8 659.5,197.34 660,199.9 660.5,202.46 661,205.02 661.5,207.57 662,210.13 662.5,212.69 663,210.88 663.5,208.4 664,206.05 664.5,203.79 665,201.58 665.5,199.43 666,197.31 666.5,195.22 667,193.16 667.5,191.12 668,189.1 668.5,187.59 669,188.01 669.5,188.42 670,188.8 670.5,189.17 671,189.51 671.5,189.85 672,190.16 672.5,190.46 673,190.74 673.5,191.02 674,191.27 674.5,191.52 675,191.75 675.5,191.97 676,192.18 676.5,192.39 677,192.58 677.5,192.76 678,192.93 678.5,193.09 679,193.25 679.5,193.4 680,193.54 680.5,193.68 681,193.8 681.5,193.93 682,194.04 682.5,194.15 683,194.26 683.5,194.36 684,194.45" fill="none" stroke="#a3a23a" stroke-width="1.0" stroke-linejoin="round"/>
<polyline points="504.5,226.3 505,226.34 505.5,226.37 506,226.4 506.5,226.43 507,226.46 507.5,226.48 508,226.51 508.5,226.53 509,226.56 509.5,226.58 510,227 510.5,229.5 511,232 511.5,234.5 512,237 512.5,239.5 513,240.89 513.5,238.46 514,236.26 514.5,234.16 515,232.12 515.5,230.14 516,228.19 516.5,226.27 517,224.38 517.5,222.51 518,220.67 518.5,219.28 519,219.65 519.5,220.01 520,220.35 520.5,220.68 521,220.99 521.5,221.28 522,221.56 522.5,221.82 523,222.08 523.5,222.32 524,222.54 524.5,222.76 525,222.97 525.5,223.17 526,223.35 526.5,223.53 527,223.7 527.5,223.86 528,224.01 528.5,224.16 529,224.3 529.5,224.43 530,224.55 530.5,224.67 531,224.79 531.5,224.9 532,225 532.5,225.1 533,225.19 533.5,225.28 534,225.36 534.5,225.44 535,225.52 535.5,225.59 536,225.66 536.5,225.72 537,225.79 537.5,225.84 538,225.9 538.5,225.95 539,226.01 539.5,226.05 540,226.1 540.5,226.14 541,226.19 541.5,226.23 542,226.26 542.5,226.3 543,226.33 543.5,226.37 544,226.4 544.5,226.43 545,226.45 545.5,226.48 546,226.51 546.5,226.53 547,226.55 547.5,226.58 548,226.6 548.5,228.91 549,231.48 549.5,234.05 550,236.62 550.5,239.19 551,241.18 551.5,238.69 552,236.48 552.5,234.37 553,232.33 553.5,230.33 554,228.38 554.5,226.46 555,224.57 555.5,222.7 556,220.85 556.5,219.24 557,219.62 557.5,219.98 558,220.32 558.5,220.65 559,220.96 559.5,221.25 560,221.53 560.5,221.8 561,222.05 561.5,222.29 562,222.52 562.5,222.74 563,222.95 563.5,223.15 564,223.33 564.5,223.51 565,223.68 565.5,223.84 566,224 566.5,224.14 567,224.28 567.5,224.42 568,224.54 568.5,224.66 569,224.78 569.5,224.88 570,224.99 570.5,225.09 571,225.18 571.5,225.27 572,225.35 572.5,225.43 573,225.51 573.5,225.58 574,225.65 574.5,225.72 575,225.78 575.5,225.84 576,225.9 576.5,225.95 577,226 577.5,226.05 578,226.1 578.5,226.14 579,226.18 579.5,226.22 580,226.26 580.5,226.3 581,226.33 581.5,226.36 582,226.39 582.5,226.42 583,226.45 583.5,226.48 584,226.5 584.5,226.53 585,226.55 585.5,226.57 586,226.59 586.5,228.65 587,231.22 587.5,233.79 588,236.36 588.5,238.93 589,241.5 589.5,238.92 590,236.69 590.5,234.57 591,232.53 591.5,230.53 592,228.58 592.5,226.65 593,224.76 593.5,222.88 594,221.03 594.5,219.2 595,219.58 595.5,219.94 596,220.29 596.5,220.61 597,220.93 597.5,221.22 598,221.5 598.5,221.77 599,222.03 599.5,222.27 600,222.5 600.5,222.72 601,222.93 601.5,223.13 602,223.32 602.5,223.5 603,223.67 603.5,223.83 604,223.98 604.5,224.13 605,224.27 605.5,224.4 606,224.53 606.5,224.65 607,224.77 607.5,224.87 608,224.98 608.5,225.08 609,225.17 609.5,225.26 610,225.34 610.5,225.43 611,225.5 611.5,225.58 612,225.64 612.5,225.71 613,225.77 613.5,225.83 614,225.89 614.5,225.94 615,226 615.5,226.04 616,226.09 616.5,226.14 617,226.18 617.5,226.22 618,226.26 618.5,226.29 619,226.33 619.5,226.36 620,226.39 620.5,226.42 621,226.45 621.5,226.48 622,226.5 622.5,226.53 623,226.55 623.5,226.57 624,226.59 624.5,228.4 625,230.97 625.5,233.54 626,236.1 626.5,238.67 627,241.24 627.5,239.16 628,236.91 628.5,234.78 629,232.73 629.5,230.73 630,228.77 630.5,226.84 631,224.95 631.5,223.07 632,221.22 632.5,219.38 633,219.54 633.5,219.91 634,220.25 634.5,220.58 635,220.89 635.5,221.19 636,221.48 636.5,221.75 637,222 637.5,222.25 638,222.48 638.5,222.7 639,222.91 639.5,223.11 640,223.3 640.5,223.48 641,223.65 641.5,223.81 642,223.97 642.5,224.12 643,224.26 643.5,224.39 644,224.52 644.5,224.64 645,224.75 645.5,224.86 646,224.97 646.5,225.07 647,225.16 647.5,225.25 648,225.34 648.5,225.42 649,225.49 649.5,225.57 650,225.64 650.5,225.7 651,225.77 651.5,225.83 652,225.88 652.5,225.94 653,225.99 653.5,226.04 654,226.09 654.5,226.13 655,226.17 655.5,226.21 656,226.25 656.5,226.29 657,226.32 657.5,226.36 658,226.39 658.5,226.42 659,226.45 659.5,226.47 660,226.5 660.5,226.52 661,226.55 661.5,226.57 662,226.59 662.5,228.14 663,230.71 663.5,233.28 664,235.85 664.5,238.42 665,240.99 665.5,239.39 666,237.13 666.5,234.99 667,232.93 667.5,230.93 668,228.96 668.5,227.04 669,225.13 669.5,223.26 670,221.4 670.5,219.57 671,219.51 671.5,219.87 672,220.22 672.5,220.55 673,220.86 673.5,221.16 674,221.45 674.5,221.72 675,221.98 675.5,222.22 676,222.45 676.5,222.68 677,222.89 677.5,223.09 678,223.28 678.5,223.46 679,223.63 679.5,223.8 680,223.95 680.5,224.1 681,224.24 681.5,224.38 682,224.51 682.5,224.63 683,224.74 683.5,224.85 684,224.96" fill="none" stroke="#3d9b3d" stroke-width="1.0" stroke-linejoin="round"/>
<polyline points="504.5,252.63 505,252.65 505.5,252.67 506,252.69 506.5,252.71 507,252.73 507.5,252.75 508,252.77 508.5,252.78 509,252.8 509.5,252.81 510,252.83 510.5,253.66 511,256.44 511.5,259.22 512,262 512.5,264.78 513,266.37 513.5,263.85 514,261.56 514.5,259.38 515,257.27 515.5,255.21 516,253.19 516.5,251.2 517,249.24 517.5,247.3 518,247.58 518.5,247.85 519,248.11 519.5,248.35 520,248.58 520.5,248.8 521,249.01 521.5,249.21 522,249.4 522.5,249.58 523,249.75 523.5,249.92 524,250.07 524.5,250.22 525,250.36 525.5,250.49 526,250.62 526.5,250.74 527,250.86 527.5,250.97 528,251.07 528.5,251.17 529,251.26 529.5,251.35 530,251.44 530.5,251.52 531,251.6 531.5,251.67 532,251.74 532.5,251.81 533,251.87 533.5,251.93 534,251.99 534.5,252.04 535,252.09 535.5,252.14 536,252.19 536.5,252.23 537,252.27 537.5,252.32 538,252.35 538.5,252.39 539,252.42 539.5,252.46 540,252.49 540.5,252.52 541,252.55 541.5,252.57 542,252.6 542.5,252.62 543,252.65 543.5,252.67 544,252.69 544.5,252.71 545,252.73 545.5,252.75 546,252.76 546.5,252.78 547,252.8 547.5,252.81 548,252.83 548.5,253.12 549,255.95 549.5,258.79 550,261.62 550.5,264.45 551,266.66 551.5,264.09 552,261.79 552.5,259.6 553,257.48 553.5,255.42 554,253.39 554.5,251.4 555,249.43 555.5,247.49 556,247.56 556.5,247.83 557,248.08 557.5,248.33 558,248.56 558.5,248.78 559,248.99 559.5,249.19 560,249.38 560.5,249.56 561,249.74 561.5,249.9 562,250.06 562.5,250.21 563,250.35 563.5,250.48 564,250.61 564.5,250.73 565,250.85 565.5,250.96 566,251.06 566.5,251.16 567,251.25 567.5,251.34 568,251.43 568.5,251.51 569,251.59 569.5,251.66 570,251.73 570.5,251.8 571,251.86 571.5,251.92 572,251.98 572.5,252.04 573,252.09 573.5,252.14 574,252.18 574.5,252.23 575,252.27 575.5,252.31 576,252.35 576.5,252.39 577,252.42 577.5,252.45 578,252.49 578.5,252.52 579,252.54 579.5,252.57 580,252.6 580.5,252.62 581,252.64 581.5,252.67 582,252.69 582.5,252.71 583,252.73 583.5,252.75 584,252.76 584.5,252.78 585,252.79 585.5,252.81 586,252.82 586.5,252.84 587,255.67 587.5,258.5 588,261.33 588.5,264.17 589,267 589.5,264.33 590,262.01 590.5,259.81 591,257.69 591.5,255.62 592,253.59 592.5,251.6 593,249.63 593.5,247.69 594,247.53 594.5,247.8 595,248.06 595.5,248.3 596,248.54 596.5,248.76 597,248.97 597.5,249.17 598,249.36 598.5,249.55 599,249.72 599.5,249.88 600,250.04 600.5,250.19 601,250.33 601.5,250.47 602,250.6 602.5,250.72 603,250.83 603.5,250.94 604,251.05 604.5,251.15 605,251.25 605.5,251.34 606,251.42 606.5,251.5 607,251.58 607.5,251.66 608,251.73 608.5,251.79 609,251.86 609.5,251.92 610,251.97 610.5,252.03 611,252.08 611.5,252.13 612,252.18 612.5,252.22 613,252.27 613.5,252.31 614,252.35 614.5,252.38 615,252.42 615.5,252.45 616,252.48 616.5,252.51 617,252.54 617.5,252.57 618,252.59 618.5,252.62 619,252.64 619.5,252.66 620,252.69 620.5,252.71 621,252.73 621.5,252.74 622,252.76 622.5,252.78 623,252.79 623.5,252.81 624,252.82 624.5,252.84 625,255.39 625.5,258.22 626,261.05 626.5,263.88 627,266.72 627.5,264.57 628,262.24 628.5,260.03 629,257.9 629.5,255.83 630,253.79 630.5,251.79 631,249.82 631.5,247.88 632,247.5 632.5,247.77 633,248.03 633.5,248.28 634,248.51 634.5,248.74 635,248.95 635.5,249.15 636,249.35 636.5,249.53 637,249.7 637.5,249.87 638,250.03 638.5,250.18 639,250.32 639.5,250.45 640,250.58 640.5,250.71 641,250.82 641.5,250.93 642,251.04 642.5,251.14 643,251.24 643.5,251.33 644,251.41 644.5,251.5 645,251.57 645.5,251.65 646,251.72 646.5,251.79 647,251.85 647.5,251.91 648,251.97 648.5,252.02 649,252.08 649.5,252.13 650,252.17 650.5,252.22 651,252.26 651.5,252.3 652,252.34 652.5,252.38 653,252.41 653.5,252.45 654,252.48 654.5,252.51 655,252.54 655.5,252.57 656,252.59 656.5,252.62 657,252.64 657.5,252.66 658,252.68 658.5,252.7 659,252.72 659.5,252.74 660,252.76 660.5,252.78 661,252.79 661.5,252.81 662,252.82 662.5,252.83 663,255.1 663.5,257.94 664,260.77 664.5,263.6 665,266.43 665.5,264.81 666,262.46 666.5,260.25 667,258.11 667.5,256.03 668,253.99 668.5,251.99 669,250.02 669.5,248.07 670,247.47 670.5,247.75 671,248.01 671.5,248.26 672,248.49 672.5,248.72 673,248.93 673.5,249.13 674,249.33 674.5,249.51 675,249.69 675.5,249.85 676,250.01 676.5,250.16 677,250.3 677.5,250.44 678,250.57 678.5,250.69 679,250.81 679.5,250.92 680,251.03 680.5,251.13 681,251.23 681.5,251.32 682,251.4 682.5,251.49 683,251.57 683.5,251.64 684,251.71" fill="none" stroke="#3535b5" stroke-width="1.0" stroke-linejoin="round"/>
<polyline points="504.5,276.07 505,276.09 505.5,276.1 506,276.12 506.5,276.13 507,276.14 507.5,276.16 508,276.17 508.5,276.18 509,276.19 509.5,276.2 510,276.21 510.5,277.76 511,281.17 511.5,284.58 512,286.82 512.5,284.9 513,283.16 513.5,281.5 514,279.89 514.5,278.32 515,276.78 515.5,275.26 516,273.77 516.5,272.29 517,272.17 517.5,272.38 518,272.57 518.5,272.76 519,272.94 519.5,273.11 520,273.27 520.5,273.42 521,273.57 521.5,273.7 522,273.84 522.5,273.96 523,274.08 523.5,274.19 524,274.3 524.5,274.4 525,274.5 525.5,274.59 526,274.68 526.5,274.77 527,274.84 527.5,274.92 528,274.99 528.5,275.06 529,275.13 529.5,275.19 530,275.25 530.5,275.3 531,275.36 531.5,275.41 532,275.46 532.5,275.5 533,275.55 533.5,275.59 534,275.63 534.5,275.67 535,275.7 535.5,275.74 536,275.77 536.5,275.8 537,275.83 537.5,275.86 538,275.88 538.5,275.91 539,275.93 539.5,275.95 540,275.98 540.5,276 541,276.02 541.5,276.04 542,276.05 542.5,276.07 543,276.09 543.5,276.1 544,276.12 544.5,276.13 545,276.14 545.5,276.16 546,276.17 546.5,276.18 547,276.19 547.5,276.2 548,276.21 548.5,277.26 549,280.72 549.5,284.18 550,287.04 550.5,285.08 551,283.33 551.5,281.66 552,280.05 552.5,278.48 553,276.93 553.5,275.41 554,273.92 554.5,272.44 555,272.15 555.5,272.36 556,272.56 556.5,272.74 557,272.92 557.5,273.09 558,273.25 558.5,273.41 559,273.55 559.5,273.69 560,273.82 560.5,273.95 561,274.07 561.5,274.18 562,274.29 562.5,274.39 563,274.49 563.5,274.58 564,274.67 564.5,274.76 565,274.84 565.5,274.91 566,274.99 566.5,275.05 567,275.12 567.5,275.18 568,275.24 568.5,275.3 569,275.35 569.5,275.4 570,275.45 570.5,275.5 571,275.54 571.5,275.58 572,275.62 572.5,275.66 573,275.7 573.5,275.73 574,275.76 574.5,275.8 575,275.83 575.5,275.85 576,275.88 576.5,275.91 577,275.93 577.5,275.95 578,275.97 578.5,275.99 579,276.01 579.5,276.03 580,276.05 580.5,276.07 581,276.08 581.5,276.1 582,276.11 582.5,276.13 583,276.14 583.5,276.15 584,276.17 584.5,276.18 585,276.19 585.5,276.2 586,276.21 586.5,276.91 587,280.37 587.5,283.84 588,287.3 588.5,285.26 589,283.5 589.5,281.83 590,280.21 590.5,278.63 591,277.09 591.5,275.57 592,274.07 592.5,272.59 593,272.13 593.5,272.34 594,272.54 594.5,272.72 595,272.9 595.5,273.07 596,273.24 596.5,273.39 597,273.54 597.5,273.68 598,273.81 598.5,273.94 599,274.06 599.5,274.17 600,274.28 600.5,274.38 601,274.48 601.5,274.57 602,274.66 602.5,274.75 603,274.83 603.5,274.91 604,274.98 604.5,275.05 605,275.11 605.5,275.18 606,275.24 606.5,275.29 607,275.35 607.5,275.4 608,275.45 608.5,275.49 609,275.54 609.5,275.58 610,275.62 610.5,275.66 611,275.69 611.5,275.73 612,275.76 612.5,275.79 613,275.82 613.5,275.85 614,275.88 614.5,275.9 615,275.93 615.5,275.95 616,275.97 616.5,275.99 617,276.01 617.5,276.03 618,276.05 618.5,276.07 619,276.08 619.5,276.1 620,276.11 620.5,276.13 621,276.14 621.5,276.15 622,276.17 622.5,276.18 623,276.19 623.5,276.2 624,276.21 624.5,276.56 625,280.03 625.5,283.49 626,286.95 626.5,285.45 627,283.67 627.5,281.99 628,280.37 628.5,278.79 629,277.24 629.5,275.72 630,274.22 630.5,272.73 631,272.11 631.5,272.32 632,272.52 632.5,272.71 633,272.89 633.5,273.06 634,273.22 634.5,273.38 635,273.52 635.5,273.66 636,273.8 636.5,273.92 637,274.04 637.5,274.16 638,274.27 638.5,274.37 639,274.47 639.5,274.57 640,274.66 640.5,274.74 641,274.82 641.5,274.9 642,274.97 642.5,275.04 643,275.11 643.5,275.17 644,275.23 644.5,275.29 645,275.34 645.5,275.39 646,275.44 646.5,275.49 647,275.53 647.5,275.58 648,275.62 648.5,275.65 649,275.69 649.5,275.73 650,275.76 650.5,275.79 651,275.82 651.5,275.85 652,275.87 652.5,275.9 653,275.92 653.5,275.95 654,275.97 654.5,275.99 655,276.01 655.5,276.03 656,276.05 656.5,276.06 657,276.08 657.5,276.1 658,276.11 658.5,276.13 659,276.14 659.5,276.15 660,276.16 660.5,276.18 661,276.19 661.5,276.2 662,276.21 662.5,276.22 663,279.68 663.5,283.14 664,286.61 664.5,285.63 665,283.84 665.5,282.16 666,280.53 666.5,278.94 667,277.39 667.5,275.87 668,274.37 668.5,272.88 669,272.09 669.5,272.3 670,272.5 670.5,272.69 671,272.87 671.5,273.04 672,273.2 672.5,273.36 673,273.51 673.5,273.65 674,273.78 674.5,273.91 675,274.03 675.5,274.15 676,274.26 676.5,274.36 677,274.46 677.5,274.56 678,274.65 678.5,274.73 679,274.81 679.5,274.89 680,274.96 680.5,275.03 681,275.1 681.5,275.16 682,275.22 682.5,275.28 683,275.34 683.5,275.39 684,275.44" fill="none" stroke="#ff33ff" stroke-width="1.0" stroke-linejoin="round"/>
<polyline points="504.5,294.18 505,294.19 505.5,294.2 506,294.21 506.5,294.22 507,294.23 507.5,294.24 508,294.24 508.5,294.25 509,294.26 509.5,294.27 510,294.27 510.5,294.28 511,296.62 511.5,299.38 512,301.25 512.5,299.85 513,298.58 513.5,297.37 514,296.2 514.5,295.05 515,293.93 515.5,292.82 516,291.73 516.5,291.39 517,291.54 517.5,291.68 518,291.81 518.5,291.94 519,292.06 519.5,292.17 520,292.28 520.5,292.38 521,292.48 521.5,292.58 522,292.66 522.5,292.75 523,292.83 523.5,292.91 524,292.98 524.5,293.05 525,293.11 525.5,293.18 526,293.24 526.5,293.29 527,293.35 527.5,293.4 528,293.45 528.5,293.49 529,293.54 529.5,293.58 530,293.62 530.5,293.66 531,293.69 531.5,293.73 532,293.76 532.5,293.79 533,293.82 533.5,293.85 534,293.88 534.5,293.9 535,293.93 535.5,293.95 536,293.97 536.5,293.99 537,294.01 537.5,294.03 538,294.05 538.5,294.07 539,294.08 539.5,294.1 540,294.11 540.5,294.13 541,294.14 541.5,294.15 542,294.17 542.5,294.18 543,294.19 543.5,294.2 544,294.21 544.5,294.22 545,294.23 545.5,294.23 546,294.24 546.5,294.25 547,294.26 547.5,294.26 548,294.27 548.5,294.28 549,296.25 549.5,299.07 550,301.41 550.5,299.98 551,298.7 551.5,297.49 552,296.31 552.5,295.16 553,294.04 553.5,292.93 554,291.84 554.5,291.38 555,291.52 555.5,291.66 556,291.8 556.5,291.92 557,292.05 557.5,292.16 558,292.27 558.5,292.37 559,292.47 559.5,292.57 560,292.66 560.5,292.74 561,292.82 561.5,292.9 562,292.97 562.5,293.04 563,293.11 563.5,293.17 564,293.23 564.5,293.29 565,293.34 565.5,293.39 566,293.44 566.5,293.49 567,293.53 567.5,293.58 568,293.62 568.5,293.65 569,293.69 569.5,293.73 570,293.76 570.5,293.79 571,293.82 571.5,293.85 572,293.87 572.5,293.9 573,293.92 573.5,293.95 574,293.97 574.5,293.99 575,294.01 575.5,294.03 576,294.05 576.5,294.06 577,294.08 577.5,294.1 578,294.11 578.5,294.13 579,294.14 579.5,294.15 580,294.16 580.5,294.18 581,294.19 581.5,294.2 582,294.21 582.5,294.22 583,294.23 583.5,294.23 584,294.24 584.5,294.25 585,294.26 585.5,294.26 586,294.27 586.5,294.28 587,295.97 587.5,298.78 588,301.6 588.5,300.11 589,298.83 589.5,297.61 590,296.43 590.5,295.28 591,294.15 591.5,293.04 592,291.95 592.5,291.36 593,291.51 593.5,291.65 594,291.78 594.5,291.91 595,292.03 595.5,292.15 596,292.26 596.5,292.36 597,292.46 597.5,292.56 598,292.65 598.5,292.73 599,292.81 599.5,292.89 600,292.96 600.5,293.03 601,293.1 601.5,293.16 602,293.22 602.5,293.28 603,293.34 603.5,293.39 604,293.44 604.5,293.48 605,293.53 605.5,293.57 606,293.61 606.5,293.65 607,293.69 607.5,293.72 608,293.76 608.5,293.79 609,293.82 609.5,293.84 610,293.87 610.5,293.9 611,293.92 611.5,293.95 612,293.97 612.5,293.99 613,294.01 613.5,294.03 614,294.05 614.5,294.06 615,294.08 615.5,294.1 616,294.11 616.5,294.12 617,294.14 617.5,294.15 618,294.16 618.5,294.17 619,294.19 619.5,294.2 620,294.21 620.5,294.22 621,294.22 621.5,294.23 622,294.24 622.5,294.25 623,294.26 623.5,294.26 624,294.27 624.5,294.28 625,295.69 625.5,298.5 626,301.32 626.5,300.25 627,298.95 627.5,297.73 628,296.54 628.5,295.39 629,294.26 629.5,293.15 630,292.06 630.5,291.35 631,291.5 631.5,291.64 632,291.77 632.5,291.9 633,292.02 633.5,292.14 634,292.25 634.5,292.35 635,292.45 635.5,292.55 636,292.64 636.5,292.72 637,292.81 637.5,292.88 638,292.96 638.5,293.03 639,293.09 639.5,293.16 640,293.22 640.5,293.28 641,293.33 641.5,293.38 642,293.43 642.5,293.48 643,293.53 643.5,293.57 644,293.61 644.5,293.65 645,293.68 645.5,293.72 646,293.75 646.5,293.78 647,293.81 647.5,293.84 648,293.87 648.5,293.9 649,293.92 649.5,293.94 650,293.97 650.5,293.99 651,294.01 651.5,294.03 652,294.04 652.5,294.06 653,294.08 653.5,294.09 654,294.11 654.5,294.12 655,294.14 655.5,294.15 656,294.16 656.5,294.17 657,294.18 657.5,294.19 658,294.2 658.5,294.21 659,294.22 659.5,294.23 660,294.24 660.5,294.25 661,294.26 661.5,294.26 662,294.27 662.5,294.28 663,295.41 663.5,298.22 664,301.04 664.5,300.39 665,299.08 665.5,297.85 666,296.66 666.5,295.51 667,294.37 667.5,293.26 668,292.17 668.5,291.33 669,291.48 669.5,291.62 670,291.76 670.5,291.89 671,292.01 671.5,292.13 672,292.24 672.5,292.34 673,292.44 673.5,292.54 674,292.63 674.5,292.72 675,292.8 675.5,292.88 676,292.95 676.5,293.02 677,293.09 677.5,293.15 678,293.21 678.5,293.27 679,293.33 679.5,293.38 680,293.43 680.5,293.48 681,293.52 681.5,293.56 682,293.6 682.5,293.64 683,293.68 683.5,293.72 684,293.75" fill="none" stroke="#333333" stroke-width="1.0" stroke-linejoin="round"/>
<line x1="29.5" y1="351.4" x2="29.5" y2="419.6" stroke="#c2c2c2" stroke-width="1"/>
<line x1="29.5" y1="420.6" x2="29.5" y2="491" stroke="#7c7c7c" stroke-width="1"/>
<line x1="29" y1="490.5" x2="194.4" y2="490.5" stroke="#7c7c7c" stroke-width="1"/>
<line x1="27" y1="368.5" x2="29.5" y2="368.5" stroke="#7c7c7c" stroke-width="1"/>
<polyline points="29.5,380.5 49.6,380.5 49.95,357.2 50.85,357.2 51.45,380.5 51.88,357.2 52.78,357.2 53.38,380.5 53.81,357.2 54.71,357.2 55.31,380.5 55.74,357.2 56.64,357.2 57.24,380.5 57.67,357.2 58.57,357.2 59.17,380.5 59.6,357.2 60.5,357.2 61.1,380.5 61.53,357.2 62.43,357.2 63.03,380.5 63.46,357.2 64.36,357.2 64.96,380.5 65.39,357.2 66.29,357.2 66.89,380.5 194.4,380.5" fill="none" stroke="#ff1a1a" stroke-width="1.0" stroke-linejoin="round"/>
<line x1="27" y1="403.5" x2="29.5" y2="403.5" stroke="#7c7c7c" stroke-width="1"/>
<polyline points="29.5,412.5 51.5,412.5 52.3,389.2 52.8,389.2 53.6,412.5 54.8,412.5 56.2,389.4 56.9,389.4 57.6,412.5 58.16,389.4 58.86,389.4 59.56,412.5 60.12,389.4 60.82,389.4 61.52,412.5 62.08,389.4 62.78,389.4 63.48,412.5 64.04,389.4 64.74,389.4 65.44,412.5 66,389.4 66.7,389.4 67.4,412.5 67.96,389.4 68.66,389.4 69.36,412.5 69.92,389.4 70.62,389.4 71.32,412.5 71.88,389.4 72.58,389.4 73.28,412.5 73.84,389.4 74.54,389.4 75.24,412.5 75.8,389.4 76.5,389.4 77.2,412.5 77.76,389.4 78.46,389.4 79.16,412.5 79.72,389.4 80.42,389.4 81.12,412.5 81.68,389.4 82.38,389.4 83.08,412.5 194.4,412.5" fill="none" stroke="#0000ff" stroke-width="1.0" stroke-linejoin="round"/>
<line x1="27" y1="436.5" x2="29.5" y2="436.5" stroke="#7c7c7c" stroke-width="1"/>
<text x="26.3" y="440" font-size="9.9" text-anchor="end" fill="#111111">2.6</text>
<line x1="27" y1="455.5" x2="29.5" y2="455.5" stroke="#7c7c7c" stroke-width="1"/>
<text x="26.3" y="459.3" font-size="9.9" text-anchor="end" fill="#111111">2.4</text>
<line x1="27" y1="475.5" x2="29.5" y2="475.5" stroke="#7c7c7c" stroke-width="1"/>
<text x="26.3" y="478.6" font-size="9.9" text-anchor="end" fill="#111111">2.2</text>
<line x1="57.5" y1="490.5" x2="57.5" y2="488" stroke="#7c7c7c" stroke-width="1"/>
<text x="56.7" y="499.7" font-size="9.9" text-anchor="middle" fill="#111111">10.0</text>
<line x1="148.5" y1="490.5" x2="148.5" y2="488" stroke="#7c7c7c" stroke-width="1"/>
<text x="147.7" y="499.7" font-size="9.9" text-anchor="middle" fill="#111111">10.5</text>
<text x="102.4" y="510.7" font-size="10.0" text-anchor="middle" fill="#111111">Time (s)</text>
<text x="11.5" y="367.5" font-size="10.0" text-anchor="middle" fill="#111111" transform="rotate(-90 11.5 367.5)">FA</text>
<text x="24.3" y="367.6" font-size="10.0" text-anchor="middle" fill="#111111" transform="rotate(-90 24.3 367.6)">spike</text>
<text x="11.5" y="400.5" font-size="10.0" text-anchor="middle" fill="#111111" transform="rotate(-90 11.5 400.5)">SA</text>
<text x="24.3" y="400.8" font-size="10.0" text-anchor="middle" fill="#111111" transform="rotate(-90 24.3 400.8)">spike</text>
<polyline points="29.8,478.4 40,477.9 49.1,477.2 49.21,476.71 49.36,476.1 49.53,474.74 49.7,472 49.86,467.22 50.03,460.91 50.21,454.15 50.4,448 50.61,441.83 50.84,435.36 51.07,430.27 51.3,428.2 51.53,430.41 51.76,435.74 51.98,442.25 52.2,448 52.4,452.91 52.6,457.87 52.8,462.39 53,466 53.22,468.68 53.44,470.66 53.67,471.78 53.9,471.9 54.15,470.62 54.4,468.15 54.65,465.2 54.9,462.5 55.13,459.79 55.35,456.84 55.57,454.39 55.8,453.2 56.05,453.74 56.3,455.51 56.55,457.83 56.8,460 57.03,462.24 57.25,464.79 57.47,466.97 57.7,468.1 57.95,467.77 58.2,466.41 58.45,464.63 58.7,463 58.94,461.4 59.17,459.6 59.39,458.08 59.6,457.3 59.79,457.54 59.97,458.51 60.14,459.79 60.3,461 60.44,462.28 60.57,463.76 60.71,465.01 60.9,465.6 61.16,465.24 61.47,464.22 61.79,462.99 62.1,462 62.39,461.28 62.68,460.62 62.95,460.13 63.2,459.9 63.42,460.04 63.63,460.47 63.81,461.02 64,461.5 64.2,461.92 64.4,462.35 64.58,462.73 64.7,463 65.7,463.28 66.7,463.57 67.7,463.84 68.7,464.12 69.7,464.39 70.7,464.65 71.7,464.92 72.7,465.18 73.7,465.44 74.7,465.69 75.7,465.94 76.7,466.19 77.7,466.43 78.7,466.68 79.7,466.92 80.7,467.15 81.7,467.38 82.7,467.61 83.7,467.84 84.7,468.07 85.7,468.29 86.7,468.51 87.7,468.72 88.7,468.94 89.7,469.15 90.7,469.35 91.7,469.56 92.7,469.76 93.7,469.96 94.7,470.16 95.7,470.36 96.7,470.55 97.7,470.74 98.7,470.93 99.7,471.11 100.7,471.3 101.7,471.48 102.7,471.66 103.7,471.84 104.7,472.01 105.7,472.18 106.7,472.35 107.7,472.52 108.7,472.69 109.7,472.85 110.7,473.01 111.7,473.17 112.7,473.33 113.7,473.49 114.7,473.64 115.7,473.79 116.7,473.95 117.7,474.09 118.7,474.24 119.7,474.39 120.7,474.53 121.7,474.67 122.7,474.81 123.7,474.95 124.7,475.08 125.7,475.22 126.7,475.35 127.7,475.48 128.7,475.61 129.7,475.74 130.7,475.86 131.7,475.99 132.7,476.11 133.7,476.23 134.7,476.35 135.7,476.47 136.7,476.59 137.7,476.71 138.7,476.82 139.7,476.93 140.7,477.04 141.7,477.15 142.7,477.26 143.7,477.37 144.7,477.48 145.7,477.58 146.7,477.68 147.7,477.79 148.7,477.89 149.7,477.99 150.7,478.08 151.7,478.18 152.7,478.28 153.7,478.37 154.7,478.47 155.7,478.56 156.7,478.65 157.7,478.74 158.7,478.83 159.7,478.92 160.7,479 161.7,479.09 162.7,479.17 163.7,479.26 164.7,479.34 165.7,479.42 166.7,479.5 167.7,479.58 168.7,479.66 169.7,479.74 170.7,479.81 171.7,479.89 172.7,479.96 173.7,480.04 174.7,480.11 175.7,480.18 176.7,480.25 177.7,480.32 178.7,480.39 179.7,480.46 180.7,480.53 181.7,480.6 182.7,480.66 183.7,480.73 184.7,480.79 185.7,480.85 186.7,480.92 187.7,480.98 188.7,481.04 189.7,481.1 190.7,481.16 191.7,481.22 192.7,481.28 193.7,481.33" fill="none" stroke="#a3a23a" stroke-width="1.0" stroke-linejoin="round"/>
<text x="8.6" y="457.2" font-size="10" text-anchor="middle" fill="#111111" transform="rotate(-90 8.6 457.2)" textLength="78.2" lengthAdjust="spacingAndGlyphs">Sensor&#160; signal (V)</text>
<line x1="273.5" y1="346.1" x2="273.5" y2="414.3" stroke="#7c7c7c" stroke-width="1"/>
<line x1="273.5" y1="421" x2="273.5" y2="491" stroke="#7c7c7c" stroke-width="1"/>
<line x1="273" y1="490.5" x2="437.8" y2="490.5" stroke="#7c7c7c" stroke-width="1"/>
<line x1="271" y1="365.5" x2="273.5" y2="365.5" stroke="#7c7c7c" stroke-width="1"/>
<line x1="273.5" y1="376.5" x2="415.6" y2="376.5" stroke="#ff8c8c" stroke-width="1"/>
<line x1="415.6" y1="377.5" x2="437.8" y2="377.5" stroke="#ff8c8c" stroke-width="1"/>
<rect x="326.4" y="354.2" width="5.2" height="21.9" rx="0" fill="#ff0000" stroke="none" stroke-width="1"/>
<rect x="390.2" y="354.2" width="1.8" height="21.9" rx="0" fill="#ff0000" stroke="none" stroke-width="1"/>
<line x1="271" y1="397.5" x2="273.5" y2="397.5" stroke="#7c7c7c" stroke-width="1"/>
<line x1="273.5" y1="406.5" x2="437.8" y2="406.5" stroke="#9a9aff" stroke-width="1"/>
<rect x="302.9" y="384.3" width="67.1" height="21.7" rx="0" fill="#0000ff" stroke="none" stroke-width="1"/>
<line x1="303.5" y1="384.3" x2="303.5" y2="406" stroke="#6f6fff" stroke-width="0.8"/>
<line x1="326.5" y1="384.3" x2="326.5" y2="406" stroke="#ffffff" stroke-width="0.7"/>
<rect x="387.1" y="384.3" width="34.4" height="21.7" rx="0" fill="#0000ff" stroke="none" stroke-width="1"/>
<line x1="271" y1="430.5" x2="273.5" y2="430.5" stroke="#7c7c7c" stroke-width="1"/>
<text x="269.6" y="433.8" font-size="9.9" text-anchor="end" fill="#111111">3.0</text>
<line x1="271" y1="453.5" x2="273.5" y2="453.5" stroke="#7c7c7c" stroke-width="1"/>
<text x="269.6" y="456.6" font-size="9.9" text-anchor="end" fill="#111111">2.5</text>
<line x1="271" y1="476.5" x2="273.5" y2="476.5" stroke="#7c7c7c" stroke-width="1"/>
<text x="269.6" y="479.7" font-size="9.9" text-anchor="end" fill="#111111">2.0</text>
<line x1="273.5" y1="490.5" x2="273.5" y2="488" stroke="#7c7c7c" stroke-width="1"/>
<text x="276.3" y="499.4" font-size="9.9" text-anchor="middle" fill="#111111">6</text>
<line x1="314.5" y1="490.5" x2="314.5" y2="488" stroke="#7c7c7c" stroke-width="1"/>
<text x="314.7" y="499.4" font-size="9.9" text-anchor="middle" fill="#111111">7</text>
<line x1="355.5" y1="490.5" x2="355.5" y2="488" stroke="#7c7c7c" stroke-width="1"/>
<text x="355.9" y="499.4" font-size="9.9" text-anchor="middle" fill="#111111">8</text>
<line x1="397.5" y1="490.5" x2="397.5" y2="488" stroke="#7c7c7c" stroke-width="1"/>
<text x="397.1" y="499.4" font-size="9.9" text-anchor="middle" fill="#111111">9</text>
<line x1="438.5" y1="490.5" x2="438.5" y2="488" stroke="#7c7c7c" stroke-width="1"/>
<text x="438.3" y="499.4" font-size="9.9" text-anchor="middle" fill="#111111">10</text>
<text x="357.8" y="510.8" font-size="10.0" text-anchor="middle" fill="#111111">Time (s)</text>
<text x="252.9" y="364.5" font-size="10.0" text-anchor="middle" fill="#111111" transform="rotate(-90 252.9 364.5)">FA</text>
<text x="265.6" y="364.5" font-size="10.0" text-anchor="middle" fill="#111111" transform="rotate(-90 265.6 364.5)">spike</text>
<text x="252.9" y="396.5" font-size="10.0" text-anchor="middle" fill="#111111" transform="rotate(-90 252.9 396.5)">SA</text>
<text x="265.6" y="396.5" font-size="10.0" text-anchor="middle" fill="#111111" transform="rotate(-90 265.6 396.5)">spike</text>
<line x1="279.8" y1="413" x2="279.8" y2="417.4" stroke="#ababab" stroke-width="2.6"/>
<polygon points="275.9,416.9 283.7,416.9 279.8,424.7" fill="#ababab" stroke="none" stroke-width="1"/>
<rect x="285.4" y="410.2" width="22.4" height="16.1" rx="1.6" fill="#1d96d2" stroke="none" stroke-width="1"/>
<rect x="285.4" y="410.2" width="22.4" height="8.05" rx="1.6" fill="#d83b33" stroke="none" stroke-width="1"/>
<rect x="285.4" y="416.65" width="22.4" height="1.6" rx="0" fill="#d83b33" stroke="none" stroke-width="1"/>
<text x="296.6" y="416.75" font-size="7.2" text-anchor="middle" fill="#ffffff">N</text>
<text x="296.6" y="424.8" font-size="7.2" text-anchor="middle" fill="#ffffff">S</text>
<path d="M287.2,441.7 Q292,440.9 292.2,439.4 L295.3,429.5" fill="none" stroke="#262626" stroke-width="1.25"/>
<line x1="293.86" y1="437.92" x2="295.66" y2="437.62" stroke="#8a8a8a" stroke-width="0.6"/>
<line x1="294.61" y1="435.54" x2="296.41" y2="435.24" stroke="#8a8a8a" stroke-width="0.6"/>
<line x1="295.35" y1="433.16" x2="297.15" y2="432.86" stroke="#8a8a8a" stroke-width="0.6"/>
<line x1="296.1" y1="430.79" x2="297.9" y2="430.49" stroke="#8a8a8a" stroke-width="0.6"/>
<rect x="285.7" y="442.8" width="23.6" height="4.5" rx="0" fill="#d3a620" stroke="#383838" stroke-width="1.2"/>
<rect x="328.6" y="416" width="22.5" height="15.7" rx="1.6" fill="#1d96d2" stroke="none" stroke-width="1"/>
<rect x="328.6" y="416" width="22.5" height="7.85" rx="1.6" fill="#d83b33" stroke="none" stroke-width="1"/>
<rect x="328.6" y="422.25" width="22.5" height="1.6" rx="0" fill="#d83b33" stroke="none" stroke-width="1"/>
<text x="339.85" y="422.35" font-size="7.2" text-anchor="middle" fill="#ffffff">N</text>
<text x="339.85" y="430.2" font-size="7.2" text-anchor="middle" fill="#ffffff">S</text>
<line x1="334" y1="441" x2="338.5" y2="432.6" stroke="#9a9a9a" stroke-width="0.6"/>
<path d="M329.8,441.7 Q335.9,441.7 336.1,440.2 L342.5,432.9" fill="none" stroke="#262626" stroke-width="1.25"/>
<rect x="328.6" y="442.8" width="23.6" height="4.5" rx="0" fill="#d3a620" stroke="#383838" stroke-width="1.2"/>
<line x1="364.6" y1="424.7" x2="364.6" y2="420" stroke="#ababab" stroke-width="2.6"/>
<polygon points="360.7,420.5 368.5,420.5 364.6,412.7" fill="#ababab" stroke="none" stroke-width="1"/>
<rect x="369.2" y="411" width="22.8" height="16" rx="1.6" fill="#1d96d2" stroke="none" stroke-width="1"/>
<rect x="369.2" y="411" width="22.8" height="8" rx="1.6" fill="#d83b33" stroke="none" stroke-width="1"/>
<rect x="369.2" y="417.4" width="22.8" height="1.6" rx="0" fill="#d83b33" stroke="none" stroke-width="1"/>
<text x="380.6" y="417.5" font-size="7.2" text-anchor="middle" fill="#ffffff">N</text>
<text x="380.6" y="425.5" font-size="7.2" text-anchor="middle" fill="#ffffff">S</text>
<path d="M371.1,441.6 Q376.7,440.9 376.9,439.4 L378.8,429.5" fill="none" stroke="#262626" stroke-width="1.25"/>
<line x1="378.38" y1="437.92" x2="380.19" y2="437.62" stroke="#8a8a8a" stroke-width="0.6"/>
<line x1="378.84" y1="435.54" x2="380.64" y2="435.24" stroke="#8a8a8a" stroke-width="0.6"/>
<line x1="379.3" y1="433.16" x2="381.1" y2="432.86" stroke="#8a8a8a" stroke-width="0.6"/>
<line x1="379.75" y1="430.79" x2="381.55" y2="430.49" stroke="#8a8a8a" stroke-width="0.6"/>
<rect x="369.5" y="442.8" width="23.6" height="4.5" rx="0" fill="#d3a620" stroke="#383838" stroke-width="1.2"/>
<line x1="404.1" y1="424.4" x2="404.1" y2="419" stroke="#ababab" stroke-width="2.6"/>
<polygon points="400.2,419.5 408,419.5 404.1,411.7" fill="#ababab" stroke="none" stroke-width="1"/>
<rect x="411" y="408.4" width="22.2" height="16.3" rx="1.6" fill="#1d96d2" stroke="none" stroke-width="1"/>
<rect x="411" y="408.4" width="22.2" height="8.15" rx="1.6" fill="#d83b33" stroke="none" stroke-width="1"/>
<rect x="411" y="414.95" width="22.2" height="1.6" rx="0" fill="#d83b33" stroke="none" stroke-width="1"/>
<text x="422.1" y="415.05" font-size="7.2" text-anchor="middle" fill="#ffffff">N</text>
<text x="422.1" y="423.2" font-size="7.2" text-anchor="middle" fill="#ffffff">S</text>
<path d="M413.3,441.5 Q419.4,441.1 419.6,439.6 L423.4,430.8" fill="none" stroke="#262626" stroke-width="1.25"/>
<rect x="410.8" y="442.8" width="23.6" height="4.5" rx="0" fill="#d3a620" stroke="#383838" stroke-width="1.2"/>
<text x="275.6" y="475.3" font-size="8.4" text-anchor="start" fill="#111111">Attraction</text>
<text x="322.8" y="466.6" font-size="8.4" text-anchor="start" fill="#111111">Contact</text>
<text x="322.8" y="476.6" font-size="8.4" text-anchor="start" fill="#111111">(dwell 1s)</text>
<text x="372.2" y="465.2" font-size="8.4" text-anchor="start" fill="#111111">Detach</text>
<text x="404.5" y="478" font-size="8.4" text-anchor="start" fill="#111111">Retreat</text>
<polyline points="273.7,465.7 285,464.8 300,463.7 312,462.8 323.4,462.2 327.5,474 331.3,486.5 332.18,485.81 333.4,484.82 334.85,483.68 336.42,482.52 338,481.5 339.65,480.6 341.45,479.73 343.3,478.9 345.08,478.12 346.7,477.4 348.09,476.75 349.33,476.17 350.49,475.63 351.69,475.11 353,474.6 354.39,474.09 355.81,473.6 357.29,473.13 358.91,472.66 360.7,472.2 362.73,471.74 364.96,471.28 367.31,470.83 369.68,470.4 372,470 374.44,469.6 377.06,469.2 379.59,468.83 381.76,468.52 383.3,468.3 387.7,460.4 392,452.2 393,452.72 394,453.22 395,453.7 396,454.18 397,454.63 398,455.08 399,455.51 400,455.93 401,456.34 402,456.74 403,457.12 404,457.49 405,457.86 406,458.21 407,458.55 408,458.88 409,459.2 410,459.52 411,459.82 412,460.12 413,460.4 414,460.68 415,460.95 416,461.21 417,461.47 418,461.71 419,461.95 420,462.19 421,462.41 422,462.63 423,462.85 424,463.05 425,463.26 426,463.45 427,463.64 428,463.83 429,464 430,464.18 431,464.35 432,464.51 433,464.67 434,464.82 435,464.97 436,465.12 437,465.26" fill="none" stroke="#a3a23a" stroke-width="1.0" stroke-linejoin="round"/>
<text x="251.6" y="453.35" font-size="10" text-anchor="middle" fill="#111111" transform="rotate(-90 251.6 453.35)" textLength="75.9" lengthAdjust="spacingAndGlyphs">Sensor&#160; signal (V)</text>
<line x1="503.5" y1="340.1" x2="503.5" y2="491" stroke="#7c7c7c" stroke-width="1"/>
<line x1="503" y1="490.5" x2="683.8" y2="490.5" stroke="#7c7c7c" stroke-width="1"/>
<line x1="501" y1="360.5" x2="503.5" y2="360.5" stroke="#7c7c7c" stroke-width="1"/>
<text x="499.8" y="364.2" font-size="9.9" text-anchor="end" fill="#111111">3.2</text>
<line x1="501" y1="408.5" x2="503.5" y2="408.5" stroke="#7c7c7c" stroke-width="1"/>
<text x="499.8" y="412" font-size="9.9" text-anchor="end" fill="#111111">2.8</text>
<line x1="501" y1="456.5" x2="503.5" y2="456.5" stroke="#7c7c7c" stroke-width="1"/>
<text x="499.8" y="459.8" font-size="9.9" text-anchor="end" fill="#111111">2.4</text>
<line x1="503.5" y1="490.5" x2="503.5" y2="488" stroke="#7c7c7c" stroke-width="1"/>
<line x1="529.5" y1="490.5" x2="529.5" y2="488" stroke="#7c7c7c" stroke-width="1"/>
<line x1="554.5" y1="490.5" x2="554.5" y2="488" stroke="#7c7c7c" stroke-width="1"/>
<line x1="580.5" y1="490.5" x2="580.5" y2="488" stroke="#7c7c7c" stroke-width="1"/>
<line x1="606.5" y1="490.5" x2="606.5" y2="488" stroke="#7c7c7c" stroke-width="1"/>
<line x1="631.5" y1="490.5" x2="631.5" y2="488" stroke="#7c7c7c" stroke-width="1"/>
<line x1="657.5" y1="490.5" x2="657.5" y2="488" stroke="#7c7c7c" stroke-width="1"/>
<line x1="683.5" y1="490.5" x2="683.5" y2="488" stroke="#7c7c7c" stroke-width="1"/>
<text x="504.7" y="500.5" font-size="9.9" text-anchor="middle" fill="#111111">0</text>
<text x="554.85" y="500.5" font-size="9.9" text-anchor="middle" fill="#111111">10</text>
<text x="606.2" y="500.5" font-size="9.9" text-anchor="middle" fill="#111111">20</text>
<text x="657.55" y="500.5" font-size="9.9" text-anchor="middle" fill="#111111">30</text>
<text x="590" y="511" font-size="10.0" text-anchor="middle" fill="#111111">Time (s)</text>
<text x="507" y="352.8" font-size="8.8" text-anchor="start" fill="#111111"><tspan font-style="italic">L</tspan> (cm):</text>
<line x1="535.2" y1="345.5" x2="556.8" y2="345.5" stroke="#1a1a1a" stroke-width="1"/>
<text x="558.5" y="348.5" font-size="8.8" text-anchor="start" fill="#111111">1.5</text>
<line x1="583.9" y1="345.5" x2="605.5" y2="345.5" stroke="#ff1a1a" stroke-width="1"/>
<text x="607.2" y="348.5" font-size="8.8" text-anchor="start" fill="#111111">1.7</text>
<line x1="633" y1="345.5" x2="654.6" y2="345.5" stroke="#1a1aff" stroke-width="1"/>
<text x="656.3" y="348.5" font-size="8.8" text-anchor="start" fill="#111111">1.9</text>
<line x1="535.2" y1="357.5" x2="556.8" y2="357.5" stroke="#ff1aff" stroke-width="1"/>
<text x="558.5" y="360.6" font-size="8.8" text-anchor="start" fill="#111111">2.1</text>
<line x1="583.9" y1="357.5" x2="605.5" y2="357.5" stroke="#1e8e1e" stroke-width="1"/>
<text x="607.2" y="360.6" font-size="8.8" text-anchor="start" fill="#111111">2.3</text>
<line x1="633" y1="357.5" x2="654.6" y2="357.5" stroke="#8e8e1e" stroke-width="1"/>
<text x="656.3" y="360.6" font-size="8.8" text-anchor="start" fill="#111111">2.5</text>
<polyline points="504,376.57 504.55,377.27 505.1,377.16 505.65,376.64 506.2,376.86 506.75,376.8 507.3,376.99 507.85,377.12 508.4,376.41 508.95,376.33 509.5,377.13 510.05,376.72 510.6,377.04 511.15,376.27 511.7,376.71 512.25,376.98 512.8,376.48 513.35,377.19 513.9,377.15 514.45,376.27 515,376.26 515.55,376.78 516.1,377.17 516.65,376.61 517.2,376.44 517.75,376.65 518.3,376.25 518.85,376.44 519.4,376.66 519.95,376.71 520.5,376.45 521.05,376.44 521.6,376.43 522.15,376.66 522.7,376.48 523.25,376.19 523.8,376.97 524.35,376.63 524.9,376.61 525.45,375.98 526,376.53 526.55,376.02 527.1,374.78 527.65,374.34 528.2,373.95 528.75,373.06 529.3,372.39 529.85,371.03 530.4,370.75 530.95,370.13 531.5,369.61 532.05,370.06 532.6,370.86 533.15,371.63 533.7,372.34 534.25,373.66 534.8,374.44 535.35,376 535.9,377.83 536.45,378.58 537,379.24 537.55,380.23 538.1,380.68 538.65,380.67 539.2,380.32 539.75,380.31 540.3,380.27 540.85,380.42 541.4,380.03 541.95,379.76 542.5,379.71 543.05,379.1 543.6,378.96 544.15,379.46 544.7,379.59 545.25,379.06 545.8,378.71 546.35,378.35 546.9,378.55 547.45,378.91 548,378.58 548.55,378.23 549.1,378.45 549.65,377.72 550.2,377.9 550.75,378.25 551.3,377.79 551.85,377.6 552.4,377.33 552.95,377.55 553.5,377.89 554.05,376.88 554.6,377.61 555.15,377.59 555.7,377.61 556.25,377.42 556.8,377.45 557.35,377.12 557.9,377.13 558.45,376.97 559,376.57 559.55,377.35 560.1,377.03 560.65,376.64 561.2,376.92 561.75,376.88 562.3,376.74 562.85,376.71 563.4,376.89 563.95,376.96 564.5,376.94 565.05,376.77 565.6,376.33 566.15,376.52 566.7,376.46 567.25,376.86 567.8,377.13 568.35,377.06 568.9,377.06 569.45,377.07 570,376.5 570.55,377.09 571.1,376.91 571.65,376.32 572.2,376.25 572.75,376.25 573.3,376.98 573.85,376.47 574.4,376.33 574.95,376.85 575.5,376.56 576.05,376.29 576.6,376.37 577.15,376.74 577.7,376.38 578.25,376.48 578.8,376.91 579.35,376.65 579.9,376.49 580.45,376.61 581,376.09 581.55,376.34 582.1,376.2 582.65,375.7 583.2,375.23 583.75,375.5 584.3,374.45 584.85,373.36 585.4,372.88 585.95,372.19 586.5,370.56 587.05,369.88 587.6,369.58 588.15,370.02 588.7,369.66 589.25,370.74 589.8,371.55 590.35,372.48 590.9,373.41 591.45,375.5 592,376.67 592.55,377.66 593.1,378.48 593.65,379.78 594.2,380.12 594.75,380.56 595.3,380.31 595.85,380.57 596.4,379.92 596.95,380.05 597.5,380.6 598.05,380.37 598.6,379.66 599.15,380.06 599.7,379.36 600.25,379.84 600.8,379.49 601.35,379.01 601.9,378.7 602.45,378.32 603,379.05 603.55,378.08 604.1,378.73 604.65,378.76 605.2,378.25 605.75,377.75 606.3,378.34 606.85,378.35 607.4,378 607.95,377.72 608.5,377.51 609.05,377.41 609.6,377.2 610.15,377.6 610.7,377.3 611.25,377.01 611.8,376.87 612.35,377.39 612.9,376.97 613.45,377.14 614,376.93 614.55,377.44 615.1,377.44 615.65,376.53 616.2,376.68 616.75,376.79 617.3,377.42 617.85,377.2 618.4,376.74 618.95,376.59 619.5,377.04 620.05,377.19 620.6,377.27 621.15,376.67 621.7,377.2 622.25,376.99 622.8,376.78 623.35,377.27 623.9,376.51 624.45,377 625,376.35 625.55,376.43 626.1,377.16 626.65,376.46 627.2,377 627.75,376.84 628.3,377.08 628.85,376.6 629.4,376.57 629.95,376.52 630.5,377.09 631.05,376.83 631.6,377.17 632.15,377.11 632.7,376.35 633.25,376.77 633.8,376.32 634.35,376.25 634.9,376.28 635.45,377.07 636,376.98 636.55,377 637.1,376.47 637.65,376.67 638.2,376.72 638.75,376.13 639.3,376.05 639.85,375.3 640.4,374.63 640.95,374.14 641.5,373.96 642.05,372.75 642.6,372.22 643.15,370.93 643.7,370.09 644.25,370.2 644.8,370.13 645.35,369.55 645.9,370.77 646.45,371.05 647,372.16 647.55,374.19 648.1,374.69 648.65,376.23 649.2,378.24 649.75,378.77 650.3,379.31 650.85,379.93 651.4,380.24 651.95,380.73 652.5,380.04 653.05,380.76 653.6,380.12 654.15,380.59 654.7,380.4 655.25,379.64 655.8,379.44 656.35,379.51 656.9,378.98 657.45,379.38 658,378.62 658.55,378.45 659.1,379.28 659.65,378.45 660.2,378.62 660.75,378.35 661.3,378.1 661.85,377.74 662.4,378.48 662.95,378.44 663.5,378.34 664.05,377.4 664.6,377.42 665.15,377.74 665.7,378.03 666.25,377.53 666.8,377.61 667.35,377.53 667.9,377.07 668.45,377.3 669,377.02 669.55,376.92 670.1,376.72 670.65,376.88 671.2,377.55 671.75,376.98 672.3,377.16 672.85,377.12 673.4,377.4 673.95,376.82 674.5,376.72 675.05,376.72 675.6,376.7 676.15,377.21 676.7,377.24 677.25,376.64 677.8,376.66 678.35,376.86 678.9,376.88 679.45,376.89 680,376.53 680.55,376.3 681.1,376.51 681.65,376.34 682.2,376.81 682.75,376.32" fill="none" stroke="#8e8e1e" stroke-width="1.25" stroke-linejoin="round"/>
<polyline points="504,392.97 504.55,392.93 505.1,392.02 505.65,392.02 506.2,392.75 506.75,392.63 507.3,392.55 507.85,392.17 508.4,392.46 508.95,392.44 509.5,392.41 510.05,391.97 510.6,392.23 511.15,392.19 511.7,392.51 512.25,392.77 512.8,392.72 513.35,392.31 513.9,392.2 514.45,392.02 515,391.78 515.55,391.77 516.1,392.2 516.65,392.05 517.2,392.11 517.75,392.62 518.3,392.25 518.85,392.29 519.4,391.96 519.95,391.74 520.5,392.04 521.05,391.85 521.6,392.22 522.15,392.7 522.7,392.36 523.25,391.84 523.8,392.5 524.35,392.32 524.9,392.12 525.45,392.09 526,391.64 526.55,391.24 527.1,390.23 527.65,390.15 528.2,389.28 528.75,387.54 529.3,387.16 529.85,386.19 530.4,385.14 530.95,384.64 531.5,384.31 532.05,384.8 532.6,384.8 533.15,385.91 533.7,386.51 534.25,388.35 534.8,389.83 535.35,390.93 535.9,392.55 536.45,394.3 537,395.29 537.55,395.97 538.1,396.3 538.65,396.62 539.2,396.98 539.75,396.38 540.3,397.02 540.85,396.25 541.4,396.74 541.95,395.97 542.5,396.44 543.05,396.01 543.6,395.62 544.15,395.45 544.7,395.4 545.25,395.16 545.8,394.7 546.35,394.43 546.9,394.57 547.45,394.83 548,394.37 548.55,393.68 549.1,394.29 549.65,394.07 550.2,394.13 550.75,393.3 551.3,393.75 551.85,392.96 552.4,393.46 552.95,393 553.5,392.87 554.05,393.44 554.6,392.61 555.15,392.96 555.7,393.23 556.25,392.57 556.8,392.48 557.35,393.1 557.9,392.6 558.45,392.86 559,392.13 559.55,392.43 560.1,392.21 560.65,392.68 561.2,392.06 561.75,392.91 562.3,391.96 562.85,392.64 563.4,391.92 563.95,392.13 564.5,392.68 565.05,392.01 565.6,392.02 566.15,392.51 566.7,392.2 567.25,391.85 567.8,392.78 568.35,391.94 568.9,391.81 569.45,392.11 570,392.38 570.55,392.5 571.1,391.87 571.65,392.09 572.2,391.77 572.75,392.19 573.3,392.5 573.85,392.47 574.4,392.63 574.95,392.48 575.5,392.59 576.05,392.43 576.6,392.19 577.15,391.94 577.7,392.37 578.25,392.02 578.8,391.8 579.35,392.13 579.9,392.53 580.45,391.73 581,392.1 581.55,391.76 582.1,391.67 582.65,390.98 583.2,391.36 583.75,390.08 584.3,389.7 584.85,388.66 585.4,387.31 585.95,386.87 586.5,385.53 587.05,384.67 587.6,384.1 588.15,383.98 588.7,384 589.25,384.99 589.8,385.67 590.35,387.25 590.9,388.53 591.45,390.07 592,390.84 592.55,392.56 593.1,393.74 593.65,395.25 594.2,396.18 594.75,396.91 595.3,397.01 595.85,396.53 596.4,396.63 596.95,396.62 597.5,395.97 598.05,395.85 598.6,396.06 599.15,395.58 599.7,396.01 600.25,395.34 600.8,395.02 601.35,394.91 601.9,394.78 602.45,394.59 603,394.73 603.55,394.51 604.1,394.19 604.65,394.38 605.2,393.81 605.75,394.36 606.3,394.29 606.85,393.94 607.4,393.53 607.95,393.51 608.5,393.48 609.05,392.85 609.6,393.13 610.15,393.16 610.7,392.74 611.25,392.59 611.8,393.23 612.35,392.74 612.9,392.83 613.45,393.19 614,392.83 614.55,392.46 615.1,393.12 615.65,392.47 616.2,392.08 616.75,392.72 617.3,392.11 617.85,392.28 618.4,392.8 618.95,392.61 619.5,391.93 620.05,392.35 620.6,392.29 621.15,392.35 621.7,392.06 622.25,392.42 622.8,391.9 623.35,392.1 623.9,392.17 624.45,392.73 625,391.86 625.55,392.53 626.1,391.96 626.65,392.33 627.2,392.15 627.75,392.22 628.3,392.5 628.85,392.14 629.4,391.86 629.95,391.86 630.5,391.81 631.05,392.58 631.6,392.37 632.15,392.68 632.7,392.41 633.25,391.74 633.8,392.38 634.35,392.49 634.9,392.43 635.45,392.2 636,392.04 636.55,392.1 637.1,392.39 637.65,391.77 638.2,391.88 638.75,391.61 639.3,391.76 639.85,391.16 640.4,390.69 640.95,389.86 641.5,388.45 642.05,387.43 642.6,386.72 643.15,385.57 643.7,384.98 644.25,384.71 644.8,384.73 645.35,384.51 645.9,385.24 646.45,385.35 647,386.73 647.55,388.72 648.1,389.36 648.65,391.17 649.2,392.31 649.75,393.7 650.3,395.65 650.85,396.61 651.4,396.79 651.95,396.43 652.5,396.57 653.05,396.43 653.6,396.76 654.15,396.63 654.7,396.24 655.25,396.15 655.8,395.57 656.35,395.81 656.9,396.03 657.45,395.65 658,394.81 658.55,395.05 659.1,395.07 659.65,394.45 660.2,394.92 660.75,394.33 661.3,394.42 661.85,393.98 662.4,394.44 662.95,394.1 663.5,393.77 664.05,393.23 664.6,393.43 665.15,392.92 665.7,393.39 666.25,393.59 666.8,392.81 667.35,393.07 667.9,392.97 668.45,392.83 669,393.08 669.55,393.25 670.1,392.97 670.65,392.69 671.2,393.13 671.75,392.46 672.3,392.84 672.85,392.72 673.4,392.79 673.95,392.85 674.5,392.2 675.05,392.57 675.6,392.33 676.15,392.58 676.7,392.87 677.25,392.51 677.8,391.87 678.35,392.31 678.9,392.54 679.45,392.7 680,392.46 680.55,392.62 681.1,391.81 681.65,392.73 682.2,392.51 682.75,392.38" fill="none" stroke="#1e8e1e" stroke-width="1.25" stroke-linejoin="round"/>
<polyline points="504,409.92 504.55,410.19 505.1,409.99 505.65,410.19 506.2,410.19 506.75,409.61 507.3,409.53 507.85,410.34 508.4,409.74 508.95,409.7 509.5,410.45 510.05,409.91 510.6,410.26 511.15,409.89 511.7,410.04 512.25,409.55 512.8,410.02 513.35,410.25 513.9,409.89 514.45,410.11 515,410.03 515.55,409.42 516.1,410.11 516.65,409.94 517.2,409.64 517.75,409.37 518.3,410.2 518.85,409.8 519.4,410.05 519.95,410.2 520.5,410.03 521.05,410.23 521.6,409.69 522.15,410.08 522.7,409.69 523.25,410.12 523.8,409.97 524.35,409.04 524.9,408.85 525.45,408.6 526,408.9 526.55,407.78 527.1,407.22 527.65,406 528.2,405.21 528.75,404.02 529.3,402.93 529.85,402.21 530.4,401.45 530.95,401.28 531.5,400.89 532.05,401.37 532.6,402.01 533.15,403.28 533.7,404.45 534.25,405.68 534.8,408.26 535.35,410.27 535.9,412.02 536.45,413.28 537,414.69 537.55,415.06 538.1,416.1 538.65,415.86 539.2,415.5 539.75,415.16 540.3,415.78 540.85,415.73 541.4,414.62 541.95,415.1 542.5,414.48 543.05,413.98 543.6,413.88 544.15,414.11 544.7,413.98 545.25,412.92 545.8,413.26 546.35,412.48 546.9,412.94 547.45,412.35 548,412.72 548.55,412.64 549.1,411.99 549.65,412.33 550.2,411.49 550.75,411.11 551.3,411.5 551.85,410.81 552.4,410.86 552.95,410.97 553.5,411.07 554.05,410.52 554.6,410.32 555.15,411.07 555.7,410.44 556.25,411.02 556.8,410.89 557.35,410.32 557.9,410.35 558.45,410.36 559,410.43 559.55,410.34 560.1,410.27 560.65,410.3 561.2,410.58 561.75,410.12 562.3,410.02 562.85,410.28 563.4,409.78 563.95,409.82 564.5,410.48 565.05,410 565.6,410.01 566.15,409.46 566.7,409.85 567.25,410 567.8,409.43 568.35,410.02 568.9,410.03 569.45,409.45 570,410.01 570.55,409.84 571.1,410.04 571.65,409.71 572.2,410.06 572.75,410.09 573.3,409.37 573.85,409.4 574.4,410.01 574.95,410.3 575.5,409.58 576.05,409.78 576.6,409.91 577.15,409.64 577.7,409.67 578.25,409.61 578.8,409.64 579.35,409.83 579.9,409.48 580.45,409.45 581,409.69 581.55,408.71 582.1,408.92 582.65,408.62 583.2,407.59 583.75,406.74 584.3,406.42 584.85,404.84 585.4,403.72 585.95,402.92 586.5,402.25 587.05,400.91 587.6,400.67 588.15,400.54 588.7,401.32 589.25,401.68 589.8,403.27 590.35,404.09 590.9,406.02 591.45,408.23 592,410.36 592.55,411.72 593.1,413.06 593.65,414.2 594.2,415.44 594.75,415.47 595.3,416.09 595.85,416.04 596.4,415.26 596.95,415.19 597.5,415.53 598.05,415.15 598.6,415.09 599.15,414.39 599.7,413.93 600.25,413.85 600.8,414.11 601.35,413.35 601.9,413.2 602.45,413.04 603,412.83 603.55,412.61 604.1,412.93 604.65,411.97 605.2,411.64 605.75,412.41 606.3,412.19 606.85,412.15 607.4,411.46 607.95,411.84 608.5,411.7 609.05,410.88 609.6,411.3 610.15,411.29 610.7,411.02 611.25,410.79 611.8,410.48 612.35,410.46 612.9,410.28 613.45,410.06 614,410.52 614.55,410.17 615.1,410.64 615.65,409.83 616.2,410.65 616.75,410.4 617.3,410.6 617.85,410.54 618.4,410.51 618.95,410.16 619.5,409.57 620.05,410.28 620.6,409.69 621.15,409.8 621.7,410.14 622.25,409.99 622.8,409.86 623.35,410.37 623.9,410.04 624.45,409.75 625,409.65 625.55,410.25 626.1,409.86 626.65,410.16 627.2,409.72 627.75,409.56 628.3,409.89 628.85,410.17 629.4,409.52 629.95,410.14 630.5,410.26 631.05,410.14 631.6,410.16 632.15,409.34 632.7,409.95 633.25,410.18 633.8,409.37 634.35,409.58 634.9,409.56 635.45,409.8 636,409.66 636.55,409.64 637.1,409.84 637.65,408.91 638.2,408.72 638.75,408.44 639.3,407.96 639.85,407.28 640.4,407.42 640.95,406.38 641.5,404.59 642.05,403.94 642.6,402.71 643.15,401.79 643.7,401.11 644.25,400.96 644.8,400.79 645.35,400.9 645.9,401.52 646.45,402.86 647,404.2 647.55,406.41 648.1,408.47 648.65,410.03 649.2,411.5 649.75,413.14 650.3,414.54 650.85,415.57 651.4,416.07 651.95,415.66 652.5,416 653.05,415.69 653.6,415.33 654.15,415.08 654.7,414.98 655.25,414.96 655.8,414.44 656.35,414.47 656.9,414 657.45,413.54 658,413.6 658.55,413.53 659.1,412.68 659.65,412.82 660.2,412.61 660.75,412.87 661.3,412.74 661.85,412 662.4,412.35 662.95,412.09 663.5,411.41 664.05,411.48 664.6,411 665.15,411.57 665.7,411.31 666.25,411.43 666.8,411.23 667.35,411.02 667.9,411 668.45,410.75 669,410.22 669.55,410.64 670.1,409.99 670.65,410.07 671.2,410.65 671.75,409.87 672.3,409.88 672.85,409.84 673.4,410.58 673.95,409.85 674.5,409.66 675.05,410.45 675.6,409.7 676.15,410.4 676.7,410.21 677.25,410.35 677.8,410.45 678.35,410.06 678.9,410.26 679.45,409.48 680,410.2 680.55,409.93 681.1,410.13 681.65,409.51 682.2,410.14 682.75,410.32" fill="none" stroke="#ff1aff" stroke-width="1.25" stroke-linejoin="round"/>
<polyline points="504,431.01 504.55,430.83 505.1,431.09 505.65,430.81 506.2,430.7 506.75,431 507.3,431.49 507.85,431.35 508.4,431.29 508.95,430.73 509.5,431.03 510.05,430.75 510.6,430.63 511.15,430.55 511.7,430.64 512.25,431.35 512.8,431.24 513.35,431.2 513.9,431.19 514.45,430.57 515,430.68 515.55,430.99 516.1,431.09 516.65,431.21 517.2,431.23 517.75,430.43 518.3,430.95 518.85,431.01 519.4,430.84 519.95,430.5 520.5,430.79 521.05,430.39 521.6,431.22 522.15,431.11 522.7,430.73 523.25,430.39 523.8,430.85 524.35,430.29 524.9,430.28 525.45,429.8 526,428.88 526.55,428.03 527.1,427.3 527.65,426.08 528.2,424.64 528.75,423.58 529.3,422.91 529.85,421.09 530.4,420.27 530.95,420.31 531.5,419.78 532.05,420.29 532.6,420.98 533.15,422.05 533.7,424.29 534.25,425.37 534.8,427.65 535.35,429.57 535.9,432.08 536.45,433.62 537,435.32 537.55,436.95 538.1,437.32 538.65,437.86 539.2,438.17 539.75,437.27 540.3,437.07 540.85,437.04 541.4,437.35 541.95,436.95 542.5,436.3 543.05,436.12 543.6,435.68 544.15,435.68 544.7,434.98 545.25,435.36 545.8,435.29 546.35,435.09 546.9,434.62 547.45,434.61 548,433.43 548.55,433.49 549.1,433.96 549.65,433.57 550.2,433.03 550.75,433.39 551.3,432.9 551.85,432.95 552.4,432.28 552.95,432.05 553.5,432.18 554.05,431.76 554.6,431.9 555.15,432.38 555.7,431.66 556.25,431.25 556.8,431.21 557.35,431.26 557.9,431.81 558.45,431.33 559,431.2 559.55,430.96 560.1,431.79 560.65,431.19 561.2,430.94 561.75,430.75 562.3,430.71 562.85,430.79 563.4,431.27 563.95,430.72 564.5,430.59 565.05,431.02 565.6,430.75 566.15,431.49 566.7,430.59 567.25,430.98 567.8,431.22 568.35,430.84 568.9,431.41 569.45,430.88 570,430.64 570.55,430.8 571.1,430.42 571.65,430.79 572.2,430.61 572.75,431.25 573.3,431.19 573.85,430.85 574.4,430.38 574.95,430.59 575.5,430.58 576.05,430.54 576.6,430.56 577.15,431.19 577.7,430.44 578.25,430.33 578.8,431.17 579.35,430.74 579.9,431.07 580.45,430.33 581,430.6 581.55,430.02 582.1,429.7 582.65,429.05 583.2,428.03 583.75,426.71 584.3,425.76 584.85,425.25 585.4,424.06 585.95,422.92 586.5,421.3 587.05,420.82 587.6,420.46 588.15,420.14 588.7,420.62 589.25,421.13 589.8,422.49 590.35,424.14 590.9,425.62 591.45,428.35 592,430.52 592.55,431.7 593.1,434.48 593.65,436.05 594.2,436.96 594.75,437.09 595.3,438.2 595.85,437.39 596.4,438.12 596.95,437.66 597.5,436.85 598.05,436.73 598.6,436.94 599.15,436.61 599.7,436.51 600.25,436.4 600.8,435.41 601.35,434.92 601.9,435.56 602.45,434.38 603,434.99 603.55,433.98 604.1,434.43 604.65,434.18 605.2,434.06 605.75,433.53 606.3,433.66 606.85,432.8 607.4,433.1 607.95,432.6 608.5,433.01 609.05,432.75 609.6,432.32 610.15,432.25 610.7,431.64 611.25,431.54 611.8,432 612.35,431.81 612.9,432.1 613.45,431.77 614,431.23 614.55,431.39 615.1,431.73 615.65,431.43 616.2,430.87 616.75,431.65 617.3,431.59 617.85,430.81 618.4,431.23 618.95,431.04 619.5,431.41 620.05,430.91 620.6,430.8 621.15,431.03 621.7,431.49 622.25,430.6 622.8,430.6 623.35,431.09 623.9,431.34 624.45,430.95 625,430.86 625.55,431.27 626.1,431.18 626.65,430.46 627.2,431.27 627.75,430.58 628.3,430.67 628.85,431.2 629.4,430.78 629.95,431.15 630.5,430.52 631.05,431.22 631.6,430.52 632.15,430.48 632.7,430.82 633.25,430.66 633.8,430.86 634.35,431.2 634.9,430.99 635.45,430.24 636,430.48 636.55,430.61 637.1,430.39 637.65,430.38 638.2,429.81 638.75,428.94 639.3,428.49 639.85,428.31 640.4,426.88 640.95,426.21 641.5,425.25 642.05,423.68 642.6,422.57 643.15,421.49 643.7,420.41 644.25,420.54 644.8,419.98 645.35,420.77 645.9,421 646.45,422.84 647,424.4 647.55,426.15 648.1,428.07 648.65,429.89 649.2,432.58 649.75,434.02 650.3,435.88 650.85,436.52 651.4,437.17 651.95,437.44 652.5,438.06 653.05,437.32 653.6,437.88 654.15,437.14 654.7,437.11 655.25,436.63 655.8,436.63 656.35,435.83 656.9,435.85 657.45,436.1 658,435.07 658.55,435.27 659.1,434.67 659.65,434.39 660.2,433.86 660.75,433.62 661.3,434.33 661.85,433.99 662.4,433.76 662.95,433.57 663.5,433.54 664.05,432.57 664.6,432.84 665.15,432.6 665.7,432.54 666.25,432.77 666.8,432.48 667.35,432.57 667.9,431.62 668.45,432.05 669,431.99 669.55,431.97 670.1,431.77 670.65,431.91 671.2,431.32 671.75,431.88 672.3,431.31 672.85,431.45 673.4,431.7 673.95,431.46 674.5,431.03 675.05,430.91 675.6,430.98 676.15,431.25 676.7,431.59 677.25,431.47 677.8,430.94 678.35,430.92 678.9,431.32 679.45,430.77 680,430.88 680.55,430.47 681.1,430.62 681.65,430.97 682.2,431.11 682.75,431.02" fill="none" stroke="#1a1aff" stroke-width="1.25" stroke-linejoin="round"/>
<polyline points="504,453.91 504.55,453.98 505.1,453.99 505.65,454.09 506.2,453.85 506.75,454 507.3,453.07 507.85,453.48 508.4,453.93 508.95,453.61 509.5,453.84 510.05,453.03 510.6,453.37 511.15,453.13 511.7,453.41 512.25,453.42 512.8,452.85 513.35,453.04 513.9,453.09 514.45,453.72 515,453.56 515.55,452.94 516.1,453.57 516.65,452.91 517.2,453.38 517.75,452.88 518.3,452.75 518.85,453.61 519.4,452.94 519.95,452.94 520.5,453.69 521.05,453.56 521.6,452.93 522.15,453.55 522.7,453.03 523.25,453.04 523.8,452.37 524.35,452.82 524.9,452.19 525.45,451.97 526,451.26 526.55,449.88 527.1,449.02 527.65,447.78 528.2,446.62 528.75,445.36 529.3,444.45 529.85,443.7 530.4,442.23 530.95,442.27 531.5,441.59 532.05,441.56 532.6,442.56 533.15,443.19 533.7,444.43 534.25,446.36 534.8,448.61 535.35,450.15 535.9,453.29 536.45,454.49 537,457.19 537.55,458.95 538.1,459.42 538.65,461.03 539.2,460.96 539.75,461.15 540.3,460.47 540.85,460.34 541.4,460.25 541.95,460.77 542.5,459.73 543.05,459.99 543.6,459.85 544.15,459.54 544.7,458.62 545.25,458.32 545.8,458.18 546.35,458.12 546.9,457.16 547.45,457.52 548,457.3 548.55,457.1 549.1,456.03 549.65,456.71 550.2,455.63 550.75,455.67 551.3,455.75 551.85,455.87 552.4,455.12 552.95,455.55 553.5,455.02 554.05,454.65 554.6,454.52 555.15,454.26 555.7,454.05 556.25,454.02 556.8,454.46 557.35,454.68 557.9,453.77 558.45,453.58 559,454.45 559.55,453.93 560.1,453.74 560.65,453.52 561.2,453.83 561.75,454.01 562.3,453.6 562.85,453.53 563.4,453.13 563.95,453.95 564.5,453.04 565.05,453.48 565.6,453.8 566.15,453.06 566.7,453.65 567.25,453.84 567.8,453.51 568.35,453.65 568.9,452.95 569.45,453.27 570,452.97 570.55,453.66 571.1,453.1 571.65,453.24 572.2,453.78 572.75,453.63 573.3,453.74 573.85,453.22 574.4,453.24 574.95,453.48 575.5,453.22 576.05,453.02 576.6,453.13 577.15,452.85 577.7,453.06 578.25,453.63 578.8,453.54 579.35,453.11 579.9,452.84 580.45,452.48 581,451.94 581.55,451.74 582.1,451.73 582.65,451.17 583.2,449.87 583.75,449.36 584.3,448.29 584.85,447.06 585.4,445.86 585.95,444.81 586.5,443.37 587.05,442.86 587.6,441.83 588.15,441.72 588.7,442.05 589.25,442.5 589.8,443.11 590.35,445.21 590.9,446.7 591.45,448.68 592,450.3 592.55,453.06 593.1,454.91 593.65,457.27 594.2,458.71 594.75,460.31 595.3,460.94 595.85,461.4 596.4,460.91 596.95,461.09 597.5,461.01 598.05,460.88 598.6,460.14 599.15,460.35 599.7,460.07 600.25,459.58 600.8,459.55 601.35,459.21 601.9,458.45 602.45,458.15 603,457.49 603.55,457.86 604.1,457.68 604.65,456.95 605.2,456.91 605.75,456.69 606.3,456.47 606.85,455.69 607.4,456.09 607.95,455.7 608.5,455.6 609.05,455.19 609.6,455.23 610.15,455.23 610.7,454.96 611.25,454.91 611.8,454.1 612.35,454.12 612.9,454.3 613.45,454.42 614,453.9 614.55,454.28 615.1,454.15 615.65,453.49 616.2,453.86 616.75,453.56 617.3,453.33 617.85,453.36 618.4,453.5 618.95,453.32 619.5,453.3 620.05,453.1 620.6,453.5 621.15,453.39 621.7,453.59 622.25,453.54 622.8,453.17 623.35,453.81 623.9,452.89 624.45,453.28 625,453.14 625.55,453.26 626.1,452.95 626.65,453.65 627.2,453.18 627.75,452.84 628.3,453.4 628.85,452.88 629.4,453.32 629.95,453.11 630.5,453.34 631.05,453.71 631.6,453.57 632.15,453.16 632.7,453.55 633.25,453.36 633.8,453.07 634.35,452.82 634.9,453.23 635.45,453.14 636,453.43 636.55,453.3 637.1,452.73 637.65,452.17 638.2,452.32 638.75,450.9 639.3,450.34 639.85,449.99 640.4,449.1 640.95,447.55 641.5,446.89 642.05,445.98 642.6,444.32 643.15,443.36 643.7,442.31 644.25,441.8 644.8,442.2 645.35,441.68 645.9,442.84 646.45,443.85 647,445.01 647.55,446.49 648.1,449.27 648.65,450.99 649.2,453.13 649.75,455.16 650.3,457.75 650.85,458.87 651.4,459.87 651.95,460.82 652.5,460.72 653.05,461.18 653.6,460.88 654.15,460.55 654.7,460.81 655.25,460.59 655.8,459.49 656.35,459.71 656.9,459.13 657.45,459.48 658,459 658.55,458.15 659.1,457.86 659.65,457.45 660.2,457.99 660.75,457.01 661.3,457.06 661.85,456.67 662.4,456.6 662.95,456.32 663.5,456.24 664.05,455.41 664.6,455.86 665.15,455.22 665.7,455.29 666.25,454.93 666.8,454.74 667.35,454.84 667.9,454.65 668.45,454.42 669,454.7 669.55,454.44 670.1,453.79 670.65,453.92 671.2,454.05 671.75,454.43 672.3,454.33 672.85,453.93 673.4,453.34 673.95,454.05 674.5,453.65 675.05,453.75 675.6,453.85 676.15,453.73 676.7,453.55 677.25,453.94 677.8,453.39 678.35,453.37 678.9,453.8 679.45,453.13 680,453.21 680.55,453.72 681.1,452.94 681.65,453.69 682.2,453.54 682.75,453.26" fill="none" stroke="#ff1a1a" stroke-width="1.25" stroke-linejoin="round"/>
<polyline points="504,478.24 504.55,478.2 505.1,477.81 505.65,477.53 506.2,477.22 506.75,477.84 507.3,477.6 507.85,477.86 508.4,477.43 508.95,477.8 509.5,477.27 510.05,477.78 510.6,477.68 511.15,477.34 511.7,477.45 512.25,477.57 512.8,477.07 513.35,477.41 513.9,477.65 514.45,477.1 515,477.62 515.55,477.49 516.1,477.64 516.65,477.12 517.2,476.87 517.75,477.57 518.3,477.56 518.85,477.19 519.4,476.82 519.95,476.9 520.5,477.31 521.05,476.92 521.6,477.51 522.15,477.04 522.7,476.51 523.25,476.76 523.8,476.19 524.35,476.4 524.9,475.9 525.45,474.92 526,474.34 526.55,473.56 527.1,472.73 527.65,471.86 528.2,469.83 528.75,469.08 529.3,468.28 529.85,467.05 530.4,466.57 530.95,465.53 531.5,466.03 532.05,465.67 532.6,465.65 533.15,466.99 533.7,467.79 534.25,469.14 534.8,471.15 535.35,472.72 535.9,474.8 536.45,477.5 537,479.3 537.55,480.45 538.1,482.83 538.65,483.41 539.2,484.71 539.75,485.9 540.3,485.82 540.85,485.46 541.4,485.4 541.95,485.22 542.5,484.71 543.05,485.3 543.6,484.05 544.15,484.09 544.7,484.07 545.25,483.38 545.8,483.62 546.35,482.55 546.9,482.95 547.45,482.54 548,482 548.55,481.92 549.1,481.18 549.65,481.29 550.2,480.99 550.75,480.47 551.3,480.18 551.85,480.2 552.4,479.69 552.95,479.18 553.5,479.65 554.05,479 554.6,479.07 555.15,479.22 555.7,478.47 556.25,478.19 556.8,478.17 557.35,478.53 557.9,478.2 558.45,478 559,478.11 559.55,478.5 560.1,477.76 560.65,477.85 561.2,478.25 561.75,477.93 562.3,477.53 562.85,477.69 563.4,477.65 563.95,477.27 564.5,477.47 565.05,477.36 565.6,477.83 566.15,477.32 566.7,477.63 567.25,477.92 567.8,477.85 568.35,477.28 568.9,477.49 569.45,477.19 570,477.25 570.55,477.33 571.1,477.62 571.65,477.75 572.2,477.1 572.75,476.8 573.3,477.24 573.85,476.84 574.4,476.8 574.95,477.53 575.5,476.86 576.05,477.45 576.6,477.07 577.15,477.61 577.7,477.48 578.25,476.61 578.8,476.64 579.35,477.24 579.9,476.7 580.45,476.22 581,476.21 581.55,475.76 582.1,474.84 582.65,474.09 583.2,472.88 583.75,472.19 584.3,470.94 584.85,470.33 585.4,469.22 585.95,467.73 586.5,467.3 587.05,466.02 587.6,465.51 588.15,465.78 588.7,465.62 589.25,466.49 589.8,467.04 590.35,468.3 590.9,469.22 591.45,471.67 592,472.84 592.55,475.4 593.1,477.73 593.65,479.69 594.2,481.49 594.75,482.64 595.3,484.19 595.85,485.24 596.4,485.17 596.95,486.14 597.5,486.05 598.05,485.45 598.6,485.59 599.15,485.01 599.7,484.55 600.25,484.68 600.8,483.7 601.35,484.1 601.9,483.93 602.45,482.9 603,483.21 603.55,482.02 604.1,482.47 604.65,481.58 605.2,481.97 605.75,481.14 606.3,481.36 606.85,480.21 607.4,480.01 607.95,480.51 608.5,480.11 609.05,479.8 609.6,479.11 610.15,479.07 610.7,479.09 611.25,478.62 611.8,479.41 612.35,479.05 612.9,479.11 613.45,478.74 614,478.27 614.55,477.91 615.1,478.47 615.65,477.76 616.2,478.12 616.75,477.96 617.3,477.92 617.85,477.44 618.4,477.39 618.95,477.78 619.5,477.24 620.05,477.69 620.6,477.28 621.15,477.37 621.7,477.21 622.25,477.59 622.8,477.38 623.35,477.19 623.9,477.17 624.45,477.49 625,477.81 625.55,477.3 626.1,477.03 626.65,477.17 627.2,477.08 627.75,477.4 628.3,477.6 628.85,477.37 629.4,476.98 629.95,477.11 630.5,477.16 631.05,477.21 631.6,477.15 632.15,477.74 632.7,477.28 633.25,477.36 633.8,477.38 634.35,477.26 634.9,477.35 635.45,476.8 636,476.94 636.55,477.03 637.1,475.93 637.65,476.01 638.2,475.28 638.75,474.35 639.3,473.59 639.85,473.46 640.4,471.85 640.95,471.4 641.5,469.7 642.05,468.89 642.6,467.53 643.15,467.14 643.7,466.65 644.25,465.59 644.8,465.69 645.35,466.11 645.9,465.94 646.45,466.98 647,468.45 647.55,470.11 648.1,471.17 648.65,473.6 649.2,475.08 649.75,477.11 650.3,479.94 650.85,480.8 651.4,483.24 651.95,484.35 652.5,485.2 653.05,485.79 653.6,485.85 654.15,485.42 654.7,485.43 655.25,484.99 655.8,485.39 656.35,485.03 656.9,484.72 657.45,483.82 658,483.86 658.55,483.18 659.1,483.37 659.65,482.99 660.2,482.9 660.75,482.29 661.3,481.96 661.85,481.75 662.4,480.78 662.95,481.01 663.5,480.18 664.05,480.27 664.6,479.79 665.15,480.4 665.7,479.28 666.25,479.98 666.8,479.82 667.35,479.14 667.9,479.38 668.45,478.46 669,478.41 669.55,478.15 670.1,478.1 670.65,477.92 671.2,478.65 671.75,477.81 672.3,478.23 672.85,477.84 673.4,477.62 673.95,477.84 674.5,477.54 675.05,478.28 675.6,477.64 676.15,477.8 676.7,477.73 677.25,477.75 677.8,477.57 678.35,477.32 678.9,477.16 679.45,477.88 680,477.16 680.55,477.39 681.1,477.73 681.65,477.48 682.2,477.83 682.75,477.68" fill="none" stroke="#1a1a1a" stroke-width="1.25" stroke-linejoin="round"/>
<text x="482.6" y="419.1" font-size="10" text-anchor="middle" fill="#111111" transform="rotate(-90 482.6 419.1)" textLength="72.4" lengthAdjust="spacingAndGlyphs">Sensor&#160; signal (V)</text>
</svg>
</body></html>
